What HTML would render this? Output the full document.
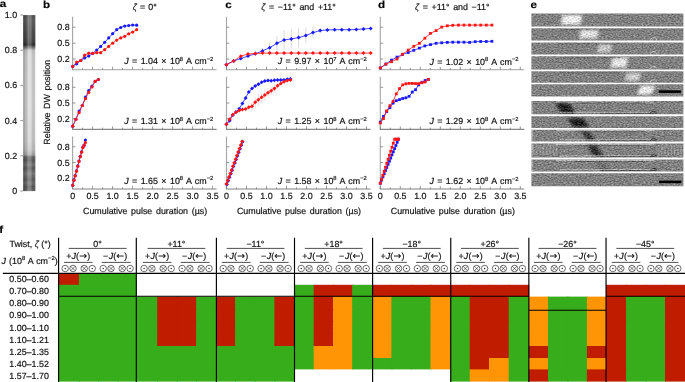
<!DOCTYPE html>
<html><head><meta charset="utf-8"><title>Figure</title>
<style>html,body{margin:0;padding:0;background:#fff}svg{display:block}text{stroke:#111;stroke-width:.18px}text.b{stroke:#000;stroke-width:.15px}</style></head>
<body>
<svg width="685" height="382" viewBox="0 0 685 382" font-family='"Liberation Sans", sans-serif' font-size="8.9" fill="#111" text-rendering="geometricPrecision" word-spacing="1.2">
<defs>
<filter id="noise" x="0" y="0" width="100%" height="100%" color-interpolation-filters="sRGB">
<feTurbulence type="fractalNoise" baseFrequency="0.5 0.85" numOctaves="2" seed="7" result="t"/>
<feColorMatrix in="t" type="matrix" values="1 0 0 0 0  1 0 0 0 0  1 0 0 0 0  0 0 0 0 1" result="n"/>
<feComposite in="SourceGraphic" in2="n" operator="arithmetic" k1="0" k2="1" k3="0.5" k4="-0.25" result="c"/>
<feComposite in="c" in2="SourceGraphic" operator="in"/>
</filter>
<filter id="blur1" x="-30%" y="-30%" width="160%" height="160%"><feGaussianBlur stdDeviation="1.4"/></filter>
<filter id="blur05"><feGaussianBlur stdDeviation="0.6"/></filter>
<linearGradient id="ga" x1="0" y1="0" x2="0" y2="1">
<stop offset="0" stop-color="#555"/>
<stop offset="0.03" stop-color="#626262"/>
<stop offset="0.07" stop-color="#585858"/>
<stop offset="0.1" stop-color="#505050"/>
<stop offset="0.13" stop-color="#4c4c4c"/>
<stop offset="0.155" stop-color="#424242"/>
<stop offset="0.168" stop-color="#2e2e2e"/>
<stop offset="0.185" stop-color="#808080"/>
<stop offset="0.2" stop-color="#cdcdcd"/>
<stop offset="0.23" stop-color="#d6d6d6"/>
<stop offset="0.5" stop-color="#d9d9d9"/>
<stop offset="0.72" stop-color="#d0d0d0"/>
<stop offset="0.77" stop-color="#c2c2c2"/>
<stop offset="0.795" stop-color="#a8a8a8"/>
<stop offset="0.805" stop-color="#6c6c6c"/>
<stop offset="0.825" stop-color="#5c5c5c"/>
<stop offset="0.85" stop-color="#787878"/>
<stop offset="0.87" stop-color="#5e5e5e"/>
<stop offset="0.9" stop-color="#7c7c7c"/>
<stop offset="0.935" stop-color="#606060"/>
<stop offset="0.955" stop-color="#767676"/>
<stop offset="0.975" stop-color="#5c5c5c"/>
<stop offset="1" stop-color="#6a6a6a"/>
</linearGradient>
<linearGradient id="gah" x1="0" y1="0" x2="1" y2="0">
<stop offset="0" stop-color="#000" stop-opacity="0.30"/>
<stop offset="0.2" stop-color="#000" stop-opacity="0.14"/>
<stop offset="0.42" stop-color="#fff" stop-opacity="0.25"/>
<stop offset="0.65" stop-color="#fff" stop-opacity="0.18"/>
<stop offset="0.8" stop-color="#000" stop-opacity="0.10"/>
<stop offset="0.9" stop-color="#000" stop-opacity="0.12"/>
<stop offset="1" stop-color="#fff" stop-opacity="0.10"/>
</linearGradient>
</defs>
<rect width="685" height="382" fill="#fff"/>
<text transform="translate(-0.3 7.4) scale(1.13 1)" class="b" font-weight="bold" font-size="10.3" fill="#000">a</text>
<text transform="translate(42.9 7.6) scale(1.13 1)" class="b" font-weight="bold" font-size="10.3" fill="#000">b</text>
<text transform="translate(225.2 7.6) scale(1.13 1)" class="b" font-weight="bold" font-size="10.3" fill="#000">c</text>
<text transform="translate(377.9 7.6) scale(1.13 1)" class="b" font-weight="bold" font-size="10.3" fill="#000">d</text>
<text transform="translate(530.4 7.6) scale(1.13 1)" class="b" font-weight="bold" font-size="10.3" fill="#000">e</text>
<text transform="translate(-0.8 233.4) scale(1.13 1)" class="b" font-weight="bold" font-size="10.3" fill="#000">f</text>
<text x="132.8" y="9.5" word-spacing="0.6"><tspan font-style="italic">ζ</tspan> = 0°</text>
<text x="261.2" y="9.5"><tspan font-style="italic">ζ</tspan> = −11° and +11°</text>
<text x="414.9" y="9.5"><tspan font-style="italic">ζ</tspan> = +11° and −11°</text>
<g>
<rect x="23.2" y="15.1" width="12.2" height="176" fill="url(#ga)"/>
<rect x="23.2" y="15.1" width="12.2" height="176" fill="url(#gah)"/>
<line x1="20.3" x2="23" y1="191.0" y2="191.0" stroke="#969696" stroke-width="1"/>
<text x="17.2" y="193.9" text-anchor="end">0</text>
<line x1="20.3" x2="23" y1="155.8" y2="155.8" stroke="#969696" stroke-width="1"/>
<text x="17.2" y="158.7" text-anchor="end">0.2</text>
<line x1="20.3" x2="23" y1="120.6" y2="120.6" stroke="#969696" stroke-width="1"/>
<text x="17.2" y="123.5" text-anchor="end">0.4</text>
<line x1="20.3" x2="23" y1="85.4" y2="85.4" stroke="#969696" stroke-width="1"/>
<text x="17.2" y="88.3" text-anchor="end">0.6</text>
<line x1="20.3" x2="23" y1="50.2" y2="50.2" stroke="#969696" stroke-width="1"/>
<text x="17.2" y="53.1" text-anchor="end">0.8</text>
<line x1="20.3" x2="23" y1="15.0" y2="15.0" stroke="#969696" stroke-width="1"/>
<text x="17.2" y="17.9" text-anchor="end">1.0</text>
</g>
<path d="M72.6 16.8V69.7" fill="none" stroke="#a4a4a4" stroke-width="1.1"/>
<path d="M72.1 69.7H216.6" fill="none" stroke="#b4b4b4" stroke-width="1.3"/>
<path d="M72.6 69.7v-2.9M82.6 69.7v-1.7M92.6 69.7v-2.9M102.6 69.7v-1.7M112.6 69.7v-2.9M122.6 69.7v-1.7M132.6 69.7v-2.9M142.6 69.7v-1.7M152.6 69.7v-2.9M162.6 69.7v-1.7M172.6 69.7v-2.9M182.6 69.7v-1.7M192.6 69.7v-2.9M202.6 69.7v-1.7M212.6 69.7v-2.9M72.6 27.2h2.9M72.6 43.2h2.9M72.6 59.0h2.9" fill="none" stroke="#7a7a7a" stroke-width="0.8"/>
<text x="69.7" y="30.2" text-anchor="end">0.8</text>
<text x="69.7" y="46.2" text-anchor="end">0.5</text>
<text x="69.7" y="62.0" text-anchor="end">0.2</text>
<path d="M72.6 76.7V129.3" fill="none" stroke="#a4a4a4" stroke-width="1.1"/>
<path d="M72.1 129.3H216.6" fill="none" stroke="#5a5a5a" stroke-width="0.9"/>
<path d="M72.6 129.3v-2.9M82.6 129.3v-1.7M92.6 129.3v-2.9M102.6 129.3v-1.7M112.6 129.3v-2.9M122.6 129.3v-1.7M132.6 129.3v-2.9M142.6 129.3v-1.7M152.6 129.3v-2.9M162.6 129.3v-1.7M172.6 129.3v-2.9M182.6 129.3v-1.7M192.6 129.3v-2.9M202.6 129.3v-1.7M212.6 129.3v-2.9M72.6 87.3h2.9M72.6 103h2.9M72.6 118.7h2.9" fill="none" stroke="#7a7a7a" stroke-width="0.8"/>
<text x="69.7" y="90.3" text-anchor="end">0.8</text>
<text x="69.7" y="106.0" text-anchor="end">0.5</text>
<text x="69.7" y="121.7" text-anchor="end">0.2</text>
<path d="M72.6 136.6V189.0" fill="none" stroke="#a4a4a4" stroke-width="1.1"/>
<path d="M72.1 189.0H216.6" fill="none" stroke="#808080" stroke-width="1"/>
<path d="M72.6 189.0v-2.9M82.6 189.0v-1.7M92.6 189.0v-2.9M102.6 189.0v-1.7M112.6 189.0v-2.9M122.6 189.0v-1.7M132.6 189.0v-2.9M142.6 189.0v-1.7M152.6 189.0v-2.9M162.6 189.0v-1.7M172.6 189.0v-2.9M182.6 189.0v-1.7M192.6 189.0v-2.9M202.6 189.0v-1.7M212.6 189.0v-2.9M72.6 146.8h2.9M72.6 162.5h2.9M72.6 178.1h2.9" fill="none" stroke="#7a7a7a" stroke-width="0.8"/>
<text x="69.7" y="149.8" text-anchor="end">0.8</text>
<text x="69.7" y="165.5" text-anchor="end">0.5</text>
<text x="69.7" y="181.1" text-anchor="end">0.2</text>
<text x="72.6" y="199.0" text-anchor="middle">0</text>
<text x="92.6" y="199.0" text-anchor="middle">0.5</text>
<text x="112.6" y="199.0" text-anchor="middle">1.0</text>
<text x="132.6" y="199.0" text-anchor="middle">1.5</text>
<text x="152.6" y="199.0" text-anchor="middle">2.0</text>
<text x="172.6" y="199.0" text-anchor="middle">2.5</text>
<text x="192.6" y="199.0" text-anchor="middle">3.0</text>
<text x="212.6" y="199.0" text-anchor="middle">3.5</text>
<text x="145.1" y="214.3" text-anchor="middle">Cumulative pulse duration (µs)</text>
<path d="M226.5 16.8V69.7" fill="none" stroke="#a4a4a4" stroke-width="1.1"/>
<path d="M226.0 69.7H370.5" fill="none" stroke="#b4b4b4" stroke-width="1.3"/>
<path d="M226.5 69.7v-2.9M236.5 69.7v-1.7M246.5 69.7v-2.9M256.5 69.7v-1.7M266.5 69.7v-2.9M276.5 69.7v-1.7M286.5 69.7v-2.9M296.5 69.7v-1.7M306.5 69.7v-2.9M316.5 69.7v-1.7M326.5 69.7v-2.9M336.5 69.7v-1.7M346.5 69.7v-2.9M356.5 69.7v-1.7M366.5 69.7v-2.9M226.5 27.2h2.9M226.5 43.2h2.9M226.5 59.0h2.9" fill="none" stroke="#7a7a7a" stroke-width="0.8"/>
<path d="M226.5 76.7V129.3" fill="none" stroke="#a4a4a4" stroke-width="1.1"/>
<path d="M226.0 129.3H370.5" fill="none" stroke="#5a5a5a" stroke-width="0.9"/>
<path d="M226.5 129.3v-2.9M236.5 129.3v-1.7M246.5 129.3v-2.9M256.5 129.3v-1.7M266.5 129.3v-2.9M276.5 129.3v-1.7M286.5 129.3v-2.9M296.5 129.3v-1.7M306.5 129.3v-2.9M316.5 129.3v-1.7M326.5 129.3v-2.9M336.5 129.3v-1.7M346.5 129.3v-2.9M356.5 129.3v-1.7M366.5 129.3v-2.9M226.5 87.3h2.9M226.5 103h2.9M226.5 118.7h2.9" fill="none" stroke="#7a7a7a" stroke-width="0.8"/>
<path d="M226.5 136.6V189.0" fill="none" stroke="#a4a4a4" stroke-width="1.1"/>
<path d="M226.0 189.0H370.5" fill="none" stroke="#808080" stroke-width="1"/>
<path d="M226.5 189.0v-2.9M236.5 189.0v-1.7M246.5 189.0v-2.9M256.5 189.0v-1.7M266.5 189.0v-2.9M276.5 189.0v-1.7M286.5 189.0v-2.9M296.5 189.0v-1.7M306.5 189.0v-2.9M316.5 189.0v-1.7M326.5 189.0v-2.9M336.5 189.0v-1.7M346.5 189.0v-2.9M356.5 189.0v-1.7M366.5 189.0v-2.9M226.5 146.8h2.9M226.5 162.5h2.9M226.5 178.1h2.9" fill="none" stroke="#7a7a7a" stroke-width="0.8"/>
<text x="226.5" y="199.0" text-anchor="middle">0</text>
<text x="246.5" y="199.0" text-anchor="middle">0.5</text>
<text x="266.5" y="199.0" text-anchor="middle">1.0</text>
<text x="286.5" y="199.0" text-anchor="middle">1.5</text>
<text x="306.5" y="199.0" text-anchor="middle">2.0</text>
<text x="326.5" y="199.0" text-anchor="middle">2.5</text>
<text x="346.5" y="199.0" text-anchor="middle">3.0</text>
<text x="366.5" y="199.0" text-anchor="middle">3.5</text>
<text x="299.0" y="214.3" text-anchor="middle">Cumulative pulse duration (µs)</text>
<path d="M380.3 16.8V69.7" fill="none" stroke="#a4a4a4" stroke-width="1.1"/>
<path d="M379.8 69.7H524.3" fill="none" stroke="#b4b4b4" stroke-width="1.3"/>
<path d="M380.3 69.7v-2.9M390.3 69.7v-1.7M400.3 69.7v-2.9M410.3 69.7v-1.7M420.3 69.7v-2.9M430.3 69.7v-1.7M440.3 69.7v-2.9M450.3 69.7v-1.7M460.3 69.7v-2.9M470.3 69.7v-1.7M480.3 69.7v-2.9M490.3 69.7v-1.7M500.3 69.7v-2.9M510.3 69.7v-1.7M520.3 69.7v-2.9M380.3 27.2h2.9M380.3 43.2h2.9M380.3 59.0h2.9" fill="none" stroke="#7a7a7a" stroke-width="0.8"/>
<path d="M380.3 76.7V129.3" fill="none" stroke="#a4a4a4" stroke-width="1.1"/>
<path d="M379.8 129.3H524.3" fill="none" stroke="#5a5a5a" stroke-width="0.9"/>
<path d="M380.3 129.3v-2.9M390.3 129.3v-1.7M400.3 129.3v-2.9M410.3 129.3v-1.7M420.3 129.3v-2.9M430.3 129.3v-1.7M440.3 129.3v-2.9M450.3 129.3v-1.7M460.3 129.3v-2.9M470.3 129.3v-1.7M480.3 129.3v-2.9M490.3 129.3v-1.7M500.3 129.3v-2.9M510.3 129.3v-1.7M520.3 129.3v-2.9M380.3 87.3h2.9M380.3 103h2.9M380.3 118.7h2.9" fill="none" stroke="#7a7a7a" stroke-width="0.8"/>
<path d="M380.3 136.6V189.0" fill="none" stroke="#a4a4a4" stroke-width="1.1"/>
<path d="M379.8 189.0H524.3" fill="none" stroke="#808080" stroke-width="1"/>
<path d="M380.3 189.0v-2.9M390.3 189.0v-1.7M400.3 189.0v-2.9M410.3 189.0v-1.7M420.3 189.0v-2.9M430.3 189.0v-1.7M440.3 189.0v-2.9M450.3 189.0v-1.7M460.3 189.0v-2.9M470.3 189.0v-1.7M480.3 189.0v-2.9M490.3 189.0v-1.7M500.3 189.0v-2.9M510.3 189.0v-1.7M520.3 189.0v-2.9M380.3 146.8h2.9M380.3 162.5h2.9M380.3 178.1h2.9" fill="none" stroke="#7a7a7a" stroke-width="0.8"/>
<text x="380.3" y="199.0" text-anchor="middle">0</text>
<text x="400.3" y="199.0" text-anchor="middle">0.5</text>
<text x="420.3" y="199.0" text-anchor="middle">1.0</text>
<text x="440.3" y="199.0" text-anchor="middle">1.5</text>
<text x="460.3" y="199.0" text-anchor="middle">2.0</text>
<text x="480.3" y="199.0" text-anchor="middle">2.5</text>
<text x="500.3" y="199.0" text-anchor="middle">3.0</text>
<text x="520.3" y="199.0" text-anchor="middle">3.5</text>
<text x="452.8" y="214.3" text-anchor="middle">Cumulative pulse duration (µs)</text>
<text transform="translate(49.6 102.3) rotate(-90)" text-anchor="middle">Relative DW position</text>
<text x="213.3" y="64.2" text-anchor="end" word-spacing="0.95"><tspan font-style="italic">J</tspan> = 1.04 × 10<tspan font-size="5.8" dy="-3.3">8</tspan><tspan dy="3.3"> A cm</tspan><tspan font-size="5.8" dy="-3.3">−2</tspan></text>
<text x="213.3" y="123.9" text-anchor="end" word-spacing="0.95"><tspan font-style="italic">J</tspan> = 1.31 × 10<tspan font-size="5.8" dy="-3.3">8</tspan><tspan dy="3.3"> A cm</tspan><tspan font-size="5.8" dy="-3.3">−2</tspan></text>
<text x="213.3" y="183.6" text-anchor="end" word-spacing="0.95"><tspan font-style="italic">J</tspan> = 1.65 × 10<tspan font-size="5.8" dy="-3.3">8</tspan><tspan dy="3.3"> A cm</tspan><tspan font-size="5.8" dy="-3.3">−2</tspan></text>
<text x="366.8" y="64.2" text-anchor="end" word-spacing="0.95"><tspan font-style="italic">J</tspan> = 9.97 × 10<tspan font-size="5.8" dy="-3.3">7</tspan><tspan dy="3.3"> A cm</tspan><tspan font-size="5.8" dy="-3.3">−2</tspan></text>
<text x="366.8" y="123.9" text-anchor="end" word-spacing="0.95"><tspan font-style="italic">J</tspan> = 1.25 × 10<tspan font-size="5.8" dy="-3.3">8</tspan><tspan dy="3.3"> A cm</tspan><tspan font-size="5.8" dy="-3.3">−2</tspan></text>
<text x="366.8" y="183.6" text-anchor="end" word-spacing="0.95"><tspan font-style="italic">J</tspan> = 1.58 × 10<tspan font-size="5.8" dy="-3.3">8</tspan><tspan dy="3.3"> A cm</tspan><tspan font-size="5.8" dy="-3.3">−2</tspan></text>
<text x="518.5" y="64.6" text-anchor="end" word-spacing="0.95"><tspan font-style="italic">J</tspan> = 1.02 × 10<tspan font-size="5.8" dy="-3.3">8</tspan><tspan dy="3.3"> A cm</tspan><tspan font-size="5.8" dy="-3.3">−2</tspan></text>
<text x="518.5" y="124.2" text-anchor="end" word-spacing="0.95"><tspan font-style="italic">J</tspan> = 1.29 × 10<tspan font-size="5.8" dy="-3.3">8</tspan><tspan dy="3.3"> A cm</tspan><tspan font-size="5.8" dy="-3.3">−2</tspan></text>
<text x="518.5" y="183.8" text-anchor="end" word-spacing="0.95"><tspan font-style="italic">J</tspan> = 1.62 × 10<tspan font-size="5.8" dy="-3.3">8</tspan><tspan dy="3.3"> A cm</tspan><tspan font-size="5.8" dy="-3.3">−2</tspan></text>
<path d="M72.7 66.4L76.7 63.8L80.7 60.5L84.7 57.9L88.7 56.1L92.7 53.3L96.7 50.0L100.7 46.4L104.7 42.3L108.7 37.9L112.7 33.7L116.7 29.7L120.7 27.5L124.7 26.1L128.7 25.5L132.7 25.0L136.7 25.2" fill="none" stroke="#1a1aff" stroke-width="0.8"/>
<circle cx="72.7" cy="66.4" r="1.6" fill="#1a1aff"/><circle cx="76.7" cy="63.8" r="1.6" fill="#1a1aff"/><circle cx="80.7" cy="60.5" r="1.6" fill="#1a1aff"/><circle cx="84.7" cy="57.9" r="1.6" fill="#1a1aff"/><circle cx="88.7" cy="56.1" r="1.6" fill="#1a1aff"/><circle cx="92.7" cy="53.3" r="1.6" fill="#1a1aff"/><circle cx="96.7" cy="50.0" r="1.6" fill="#1a1aff"/><circle cx="100.7" cy="46.4" r="1.6" fill="#1a1aff"/><circle cx="104.7" cy="42.3" r="1.6" fill="#1a1aff"/><circle cx="108.7" cy="37.9" r="1.6" fill="#1a1aff"/><circle cx="112.7" cy="33.7" r="1.6" fill="#1a1aff"/><circle cx="116.7" cy="29.7" r="1.6" fill="#1a1aff"/><circle cx="120.7" cy="27.5" r="1.6" fill="#1a1aff"/><circle cx="124.7" cy="26.1" r="1.6" fill="#1a1aff"/><circle cx="128.7" cy="25.5" r="1.6" fill="#1a1aff"/><circle cx="132.7" cy="25.0" r="1.6" fill="#1a1aff"/><circle cx="136.7" cy="25.2" r="1.6" fill="#1a1aff"/>
<path d="M72.7 66.4L76.7 62.1L80.7 60.5L84.7 55.2L88.7 53.2L92.7 53.3L96.7 52.7L100.7 52.7L104.7 49.7L108.7 46.4L112.7 43.2L116.7 40.1L120.7 37.9L124.7 36.3L128.7 33.8L132.7 32.1L136.7 29.7" fill="none" stroke="#ff1414" stroke-width="0.8"/>
<circle cx="72.7" cy="66.4" r="1.6" fill="#ff1414"/><circle cx="76.7" cy="62.1" r="1.6" fill="#ff1414"/><circle cx="80.7" cy="60.5" r="1.6" fill="#ff1414"/><circle cx="84.7" cy="55.2" r="1.6" fill="#ff1414"/><circle cx="88.7" cy="53.2" r="1.6" fill="#ff1414"/><circle cx="92.7" cy="53.3" r="1.6" fill="#ff1414"/><circle cx="96.7" cy="52.7" r="1.6" fill="#ff1414"/><circle cx="100.7" cy="52.7" r="1.6" fill="#ff1414"/><circle cx="104.7" cy="49.7" r="1.6" fill="#ff1414"/><circle cx="108.7" cy="46.4" r="1.6" fill="#ff1414"/><circle cx="112.7" cy="43.2" r="1.6" fill="#ff1414"/><circle cx="116.7" cy="40.1" r="1.6" fill="#ff1414"/><circle cx="120.7" cy="37.9" r="1.6" fill="#ff1414"/><circle cx="124.7" cy="36.3" r="1.6" fill="#ff1414"/><circle cx="128.7" cy="33.8" r="1.6" fill="#ff1414"/><circle cx="132.7" cy="32.1" r="1.6" fill="#ff1414"/><circle cx="136.7" cy="29.7" r="1.6" fill="#ff1414"/>
<path d="M72.7 126.2L75.9 119.3L79.1 111.0L82.3 105.5L85.5 97.2L88.7 90.6L91.9 86.2L95.1 81.4L98.3 79.5" fill="none" stroke="#1a1aff" stroke-width="0.8"/>
<circle cx="72.7" cy="126.2" r="1.6" fill="#1a1aff"/><circle cx="75.9" cy="119.3" r="1.6" fill="#1a1aff"/><circle cx="79.1" cy="111.0" r="1.6" fill="#1a1aff"/><circle cx="82.3" cy="105.5" r="1.6" fill="#1a1aff"/><circle cx="85.5" cy="97.2" r="1.6" fill="#1a1aff"/><circle cx="88.7" cy="90.6" r="1.6" fill="#1a1aff"/><circle cx="91.9" cy="86.2" r="1.6" fill="#1a1aff"/><circle cx="95.1" cy="81.4" r="1.6" fill="#1a1aff"/><circle cx="98.3" cy="79.5" r="1.6" fill="#1a1aff"/>
<path d="M72.7 126.2L75.9 119.3L79.1 112.6L82.3 105.5L85.5 98.7L88.7 92.4L91.9 86.9L95.1 81.4L98.3 79.5" fill="none" stroke="#ff1414" stroke-width="0.8"/>
<circle cx="72.7" cy="126.2" r="1.6" fill="#ff1414"/><circle cx="75.9" cy="119.3" r="1.6" fill="#ff1414"/><circle cx="79.1" cy="112.6" r="1.6" fill="#ff1414"/><circle cx="82.3" cy="105.5" r="1.6" fill="#ff1414"/><circle cx="85.5" cy="98.7" r="1.6" fill="#ff1414"/><circle cx="88.7" cy="92.4" r="1.6" fill="#ff1414"/><circle cx="91.9" cy="86.9" r="1.6" fill="#ff1414"/><circle cx="95.1" cy="81.4" r="1.6" fill="#ff1414"/><circle cx="98.3" cy="79.5" r="1.6" fill="#ff1414"/>
<path d="M72.7 185.3L74.0 179.9L75.2 175.5L76.5 170.8L77.8 165.9L79.0 161.0L80.3 156.3L81.6 151.8L82.9 147.2L84.1 145.0L85.4 140.0" fill="none" stroke="#1a1aff" stroke-width="0.8"/>
<circle cx="72.7" cy="185.3" r="1.6" fill="#1a1aff"/><circle cx="74.0" cy="179.9" r="1.6" fill="#1a1aff"/><circle cx="75.2" cy="175.5" r="1.6" fill="#1a1aff"/><circle cx="76.5" cy="170.8" r="1.6" fill="#1a1aff"/><circle cx="77.8" cy="165.9" r="1.6" fill="#1a1aff"/><circle cx="79.0" cy="161.0" r="1.6" fill="#1a1aff"/><circle cx="80.3" cy="156.3" r="1.6" fill="#1a1aff"/><circle cx="81.6" cy="151.8" r="1.6" fill="#1a1aff"/><circle cx="82.9" cy="147.2" r="1.6" fill="#1a1aff"/><circle cx="84.1" cy="145.0" r="1.6" fill="#1a1aff"/><circle cx="85.4" cy="140.0" r="1.6" fill="#1a1aff"/>
<path d="M72.7 185.3L74.0 180.3L75.2 175.9L76.5 171.2L77.8 166.3L79.0 161.4L80.3 156.7L81.6 152.2L82.9 147.6L84.1 145.4L85.4 142.6" fill="none" stroke="#ff1414" stroke-width="0.8"/>
<circle cx="72.7" cy="185.3" r="1.6" fill="#ff1414"/><circle cx="74.0" cy="180.3" r="1.6" fill="#ff1414"/><circle cx="75.2" cy="175.9" r="1.6" fill="#ff1414"/><circle cx="76.5" cy="171.2" r="1.6" fill="#ff1414"/><circle cx="77.8" cy="166.3" r="1.6" fill="#ff1414"/><circle cx="79.0" cy="161.4" r="1.6" fill="#ff1414"/><circle cx="80.3" cy="156.7" r="1.6" fill="#ff1414"/><circle cx="81.6" cy="152.2" r="1.6" fill="#ff1414"/><circle cx="82.9" cy="147.6" r="1.6" fill="#ff1414"/><circle cx="84.1" cy="145.4" r="1.6" fill="#ff1414"/><circle cx="85.4" cy="142.6" r="1.6" fill="#ff1414"/>
<path d="M262.5 47.9v6M269.7 42.7v10M276.9 36.3v14M284.1 30.0v20M291.3 28.9v20M298.6 27.6v20M305.8 27.6v16M313.0 26.6v12M320.2 28.6v4" stroke="#c9c9d6" stroke-width="0.7" fill="none"/>
<path d="M226.4 64.7L233.6 61.0L240.8 58.6L248.0 56.0L255.3 53.8L262.5 50.9L269.7 47.7L276.9 43.3L284.1 40.0L291.3 38.9L298.6 37.6L305.8 35.6L313.0 32.6L320.2 30.6L327.4 29.9L334.6 29.7L341.8 29.7L349.1 29.7L356.3 29.5L363.5 29.0L370.7 28.4" fill="none" stroke="#1a1aff" stroke-width="0.8"/>
<path d="M224.4 64.7L226.4 62.7L228.4 64.7L226.4 66.7Z" fill="#1a1aff"/><path d="M231.6 61.0L233.6 59.0L235.6 61.0L233.6 63.0Z" fill="#1a1aff"/><path d="M238.8 58.6L240.8 56.6L242.8 58.6L240.8 60.6Z" fill="#1a1aff"/><path d="M246.0 56.0L248.0 54.0L250.0 56.0L248.0 58.0Z" fill="#1a1aff"/><path d="M253.3 53.8L255.3 51.8L257.3 53.8L255.3 55.8Z" fill="#1a1aff"/><path d="M260.5 50.9L262.5 48.9L264.5 50.9L262.5 52.9Z" fill="#1a1aff"/><path d="M267.7 47.7L269.7 45.7L271.7 47.7L269.7 49.7Z" fill="#1a1aff"/><path d="M274.9 43.3L276.9 41.3L278.9 43.3L276.9 45.3Z" fill="#1a1aff"/><path d="M282.1 40.0L284.1 38.0L286.1 40.0L284.1 42.0Z" fill="#1a1aff"/><path d="M289.3 38.9L291.3 36.9L293.3 38.9L291.3 40.9Z" fill="#1a1aff"/><path d="M296.6 37.6L298.6 35.6L300.6 37.6L298.6 39.6Z" fill="#1a1aff"/><path d="M303.8 35.6L305.8 33.6L307.8 35.6L305.8 37.6Z" fill="#1a1aff"/><path d="M311.0 32.6L313.0 30.6L315.0 32.6L313.0 34.6Z" fill="#1a1aff"/><path d="M318.2 30.6L320.2 28.6L322.2 30.6L320.2 32.6Z" fill="#1a1aff"/><path d="M325.4 29.9L327.4 27.9L329.4 29.9L327.4 31.9Z" fill="#1a1aff"/><path d="M332.6 29.7L334.6 27.7L336.6 29.7L334.6 31.7Z" fill="#1a1aff"/><path d="M339.8 29.7L341.8 27.7L343.8 29.7L341.8 31.7Z" fill="#1a1aff"/><path d="M347.1 29.7L349.1 27.7L351.1 29.7L349.1 31.7Z" fill="#1a1aff"/><path d="M354.3 29.5L356.3 27.5L358.3 29.5L356.3 31.5Z" fill="#1a1aff"/><path d="M361.5 29.0L363.5 27.0L365.5 29.0L363.5 31.0Z" fill="#1a1aff"/><path d="M368.7 28.4L370.7 26.4L372.7 28.4L370.7 30.4Z" fill="#1a1aff"/>
<path d="M226.4 64.7L233.6 61.0L240.8 56.2L248.0 54.0L255.3 53.6L262.5 53.1L269.7 53.1L276.9 53.1L284.1 53.1L291.3 53.1L298.6 53.1L305.8 53.1L313.0 53.1L320.2 53.1L327.4 53.1L334.6 53.1L341.8 53.1L349.1 53.1L356.3 53.1L363.5 53.1L370.7 53.1" fill="none" stroke="#ff1414" stroke-width="0.8"/>
<path d="M224.4 64.7L226.4 62.7L228.4 64.7L226.4 66.7Z" fill="#ff1414"/><path d="M231.6 61.0L233.6 59.0L235.6 61.0L233.6 63.0Z" fill="#ff1414"/><path d="M238.8 56.2L240.8 54.2L242.8 56.2L240.8 58.2Z" fill="#ff1414"/><path d="M246.0 54.0L248.0 52.0L250.0 54.0L248.0 56.0Z" fill="#ff1414"/><path d="M253.3 53.6L255.3 51.6L257.3 53.6L255.3 55.6Z" fill="#ff1414"/><path d="M260.5 53.1L262.5 51.1L264.5 53.1L262.5 55.1Z" fill="#ff1414"/><path d="M267.7 53.1L269.7 51.1L271.7 53.1L269.7 55.1Z" fill="#ff1414"/><path d="M274.9 53.1L276.9 51.1L278.9 53.1L276.9 55.1Z" fill="#ff1414"/><path d="M282.1 53.1L284.1 51.1L286.1 53.1L284.1 55.1Z" fill="#ff1414"/><path d="M289.3 53.1L291.3 51.1L293.3 53.1L291.3 55.1Z" fill="#ff1414"/><path d="M296.6 53.1L298.6 51.1L300.6 53.1L298.6 55.1Z" fill="#ff1414"/><path d="M303.8 53.1L305.8 51.1L307.8 53.1L305.8 55.1Z" fill="#ff1414"/><path d="M311.0 53.1L313.0 51.1L315.0 53.1L313.0 55.1Z" fill="#ff1414"/><path d="M318.2 53.1L320.2 51.1L322.2 53.1L320.2 55.1Z" fill="#ff1414"/><path d="M325.4 53.1L327.4 51.1L329.4 53.1L327.4 55.1Z" fill="#ff1414"/><path d="M332.6 53.1L334.6 51.1L336.6 53.1L334.6 55.1Z" fill="#ff1414"/><path d="M339.8 53.1L341.8 51.1L343.8 53.1L341.8 55.1Z" fill="#ff1414"/><path d="M347.1 53.1L349.1 51.1L351.1 53.1L349.1 55.1Z" fill="#ff1414"/><path d="M354.3 53.1L356.3 51.1L358.3 53.1L356.3 55.1Z" fill="#ff1414"/><path d="M361.5 53.1L363.5 51.1L365.5 53.1L363.5 55.1Z" fill="#ff1414"/><path d="M368.7 53.1L370.7 51.1L372.7 53.1L370.7 55.1Z" fill="#ff1414"/>
<path d="M248.8 104.2v6M252.0 102.3v8M255.2 97.2v10M258.4 93.8v12M261.6 91.2v12M264.8 89.0v12M268.0 87.8v10M271.2 85.8v10M274.4 84.6v8M277.6 82.8v6" stroke="#f0cfcf" stroke-width="0.7" fill="none"/>
<path d="M226.4 124.3L229.6 120.8L232.8 114.9L236.0 112.0L239.2 108.8L242.4 103.5L245.6 98.0L248.8 91.9L252.0 88.6L255.2 86.0L258.4 84.2L261.6 82.3L264.8 80.9L268.0 80.5L271.2 80.7L274.4 80.3L277.6 80.1L280.8 79.9L284.0 79.9L287.2 79.2L290.4 79.0" fill="none" stroke="#1a1aff" stroke-width="0.8"/>
<path d="M224.4 124.3L226.4 122.3L228.4 124.3L226.4 126.3Z" fill="#1a1aff"/><path d="M227.6 120.8L229.6 118.8L231.6 120.8L229.6 122.8Z" fill="#1a1aff"/><path d="M230.8 114.9L232.8 112.9L234.8 114.9L232.8 116.9Z" fill="#1a1aff"/><path d="M234.0 112.0L236.0 110.0L238.0 112.0L236.0 114.0Z" fill="#1a1aff"/><path d="M237.2 108.8L239.2 106.8L241.2 108.8L239.2 110.8Z" fill="#1a1aff"/><path d="M240.4 103.5L242.4 101.5L244.4 103.5L242.4 105.5Z" fill="#1a1aff"/><path d="M243.6 98.0L245.6 96.0L247.6 98.0L245.6 100.0Z" fill="#1a1aff"/><path d="M246.8 91.9L248.8 89.9L250.8 91.9L248.8 93.9Z" fill="#1a1aff"/><path d="M250.0 88.6L252.0 86.6L254.0 88.6L252.0 90.6Z" fill="#1a1aff"/><path d="M253.2 86.0L255.2 84.0L257.2 86.0L255.2 88.0Z" fill="#1a1aff"/><path d="M256.4 84.2L258.4 82.2L260.4 84.2L258.4 86.2Z" fill="#1a1aff"/><path d="M259.6 82.3L261.6 80.3L263.6 82.3L261.6 84.3Z" fill="#1a1aff"/><path d="M262.8 80.9L264.8 78.9L266.8 80.9L264.8 82.9Z" fill="#1a1aff"/><path d="M266.0 80.5L268.0 78.5L270.0 80.5L268.0 82.5Z" fill="#1a1aff"/><path d="M269.2 80.7L271.2 78.7L273.2 80.7L271.2 82.7Z" fill="#1a1aff"/><path d="M272.4 80.3L274.4 78.3L276.4 80.3L274.4 82.3Z" fill="#1a1aff"/><path d="M275.6 80.1L277.6 78.1L279.6 80.1L277.6 82.1Z" fill="#1a1aff"/><path d="M278.8 79.9L280.8 77.9L282.8 79.9L280.8 81.9Z" fill="#1a1aff"/><path d="M282.0 79.9L284.0 77.9L286.0 79.9L284.0 81.9Z" fill="#1a1aff"/><path d="M285.2 79.2L287.2 77.2L289.2 79.2L287.2 81.2Z" fill="#1a1aff"/><path d="M288.4 79.0L290.4 77.0L292.4 79.0L290.4 81.0Z" fill="#1a1aff"/>
<path d="M226.4 124.3L229.6 119.3L232.8 114.7L236.0 112.3L239.2 110.5L242.4 109.6L245.6 109.0L248.8 107.2L252.0 106.3L255.2 102.2L258.4 99.8L261.6 97.2L264.8 95.0L268.0 92.8L271.2 90.8L274.4 88.6L277.6 85.8L280.8 83.6L284.0 81.8L287.2 80.5L290.4 79.9" fill="none" stroke="#ff1414" stroke-width="0.8"/>
<path d="M224.4 124.3L226.4 122.3L228.4 124.3L226.4 126.3Z" fill="#ff1414"/><path d="M227.6 119.3L229.6 117.3L231.6 119.3L229.6 121.3Z" fill="#ff1414"/><path d="M230.8 114.7L232.8 112.7L234.8 114.7L232.8 116.7Z" fill="#ff1414"/><path d="M234.0 112.3L236.0 110.3L238.0 112.3L236.0 114.3Z" fill="#ff1414"/><path d="M237.2 110.5L239.2 108.5L241.2 110.5L239.2 112.5Z" fill="#ff1414"/><path d="M240.4 109.6L242.4 107.6L244.4 109.6L242.4 111.6Z" fill="#ff1414"/><path d="M243.6 109.0L245.6 107.0L247.6 109.0L245.6 111.0Z" fill="#ff1414"/><path d="M246.8 107.2L248.8 105.2L250.8 107.2L248.8 109.2Z" fill="#ff1414"/><path d="M250.0 106.3L252.0 104.3L254.0 106.3L252.0 108.3Z" fill="#ff1414"/><path d="M253.2 102.2L255.2 100.2L257.2 102.2L255.2 104.2Z" fill="#ff1414"/><path d="M256.4 99.8L258.4 97.8L260.4 99.8L258.4 101.8Z" fill="#ff1414"/><path d="M259.6 97.2L261.6 95.2L263.6 97.2L261.6 99.2Z" fill="#ff1414"/><path d="M262.8 95.0L264.8 93.0L266.8 95.0L264.8 97.0Z" fill="#ff1414"/><path d="M266.0 92.8L268.0 90.8L270.0 92.8L268.0 94.8Z" fill="#ff1414"/><path d="M269.2 90.8L271.2 88.8L273.2 90.8L271.2 92.8Z" fill="#ff1414"/><path d="M272.4 88.6L274.4 86.6L276.4 88.6L274.4 90.6Z" fill="#ff1414"/><path d="M275.6 85.8L277.6 83.8L279.6 85.8L277.6 87.8Z" fill="#ff1414"/><path d="M278.8 83.6L280.8 81.6L282.8 83.6L280.8 85.6Z" fill="#ff1414"/><path d="M282.0 81.8L284.0 79.8L286.0 81.8L284.0 83.8Z" fill="#ff1414"/><path d="M285.2 80.5L287.2 78.5L289.2 80.5L287.2 82.5Z" fill="#ff1414"/><path d="M288.4 79.9L290.4 77.9L292.4 79.9L290.4 81.9Z" fill="#ff1414"/>
<path d="M226.9 184.4L228.2 180.8L229.5 177.3L230.8 173.7L232.1 170.2L233.4 166.6L234.8 163.1L236.1 159.5L237.4 155.9L238.7 152.4L240.0 148.8L241.3 145.3L242.6 141.7" fill="none" stroke="#1a1aff" stroke-width="0.8"/>
<path d="M224.9 184.4L226.9 182.4L228.9 184.4L226.9 186.4Z" fill="#1a1aff"/><path d="M226.2 180.8L228.2 178.8L230.2 180.8L228.2 182.8Z" fill="#1a1aff"/><path d="M227.5 177.3L229.5 175.3L231.5 177.3L229.5 179.3Z" fill="#1a1aff"/><path d="M228.8 173.7L230.8 171.7L232.8 173.7L230.8 175.7Z" fill="#1a1aff"/><path d="M230.1 170.2L232.1 168.2L234.1 170.2L232.1 172.2Z" fill="#1a1aff"/><path d="M231.4 166.6L233.4 164.6L235.4 166.6L233.4 168.6Z" fill="#1a1aff"/><path d="M232.8 163.1L234.8 161.1L236.8 163.1L234.8 165.1Z" fill="#1a1aff"/><path d="M234.1 159.5L236.1 157.5L238.1 159.5L236.1 161.5Z" fill="#1a1aff"/><path d="M235.4 155.9L237.4 153.9L239.4 155.9L237.4 157.9Z" fill="#1a1aff"/><path d="M236.7 152.4L238.7 150.4L240.7 152.4L238.7 154.4Z" fill="#1a1aff"/><path d="M238.0 148.8L240.0 146.8L242.0 148.8L240.0 150.8Z" fill="#1a1aff"/><path d="M239.3 145.3L241.3 143.3L243.3 145.3L241.3 147.3Z" fill="#1a1aff"/><path d="M240.6 141.7L242.6 139.7L244.6 141.7L242.6 143.7Z" fill="#1a1aff"/>
<path d="M226.4 184.1L227.7 180.5L229.0 177.0L230.3 173.4L231.6 169.9L232.9 166.3L234.2 162.8L235.6 159.2L236.9 155.6L238.2 152.1L239.5 148.5L240.8 145.0L242.1 141.4" fill="none" stroke="#ff1414" stroke-width="0.8"/>
<path d="M224.4 184.1L226.4 182.1L228.4 184.1L226.4 186.1Z" fill="#ff1414"/><path d="M225.7 180.5L227.7 178.5L229.7 180.5L227.7 182.5Z" fill="#ff1414"/><path d="M227.0 177.0L229.0 175.0L231.0 177.0L229.0 179.0Z" fill="#ff1414"/><path d="M228.3 173.4L230.3 171.4L232.3 173.4L230.3 175.4Z" fill="#ff1414"/><path d="M229.6 169.9L231.6 167.9L233.6 169.9L231.6 171.9Z" fill="#ff1414"/><path d="M230.9 166.3L232.9 164.3L234.9 166.3L232.9 168.3Z" fill="#ff1414"/><path d="M232.2 162.8L234.2 160.8L236.2 162.8L234.2 164.8Z" fill="#ff1414"/><path d="M233.6 159.2L235.6 157.2L237.6 159.2L235.6 161.2Z" fill="#ff1414"/><path d="M234.9 155.6L236.9 153.6L238.9 155.6L236.9 157.6Z" fill="#ff1414"/><path d="M236.2 152.1L238.2 150.1L240.2 152.1L238.2 154.1Z" fill="#ff1414"/><path d="M237.5 148.5L239.5 146.5L241.5 148.5L239.5 150.5Z" fill="#ff1414"/><path d="M238.8 145.0L240.8 143.0L242.8 145.0L240.8 147.0Z" fill="#ff1414"/><path d="M240.1 141.4L242.1 139.4L244.1 141.4L242.1 143.4Z" fill="#ff1414"/>
<path d="M380.3 68.0L385.9 64.1L391.5 60.1L397.0 57.1L402.6 54.4L408.2 52.5L413.8 50.3L419.4 48.1L424.9 45.9L430.5 44.6L436.1 43.3L441.7 42.8L447.3 42.4L452.8 42.2L458.4 42.2L464.0 42.2L469.6 42.4L475.2 41.7L480.7 41.5L486.3 41.5L491.9 41.3" fill="none" stroke="#1a1aff" stroke-width="0.8"/>
<rect x="378.9" y="66.6" width="2.8" height="2.8" fill="#1a1aff"/><rect x="384.5" y="62.7" width="2.8" height="2.8" fill="#1a1aff"/><rect x="390.1" y="58.7" width="2.8" height="2.8" fill="#1a1aff"/><rect x="395.6" y="55.7" width="2.8" height="2.8" fill="#1a1aff"/><rect x="401.2" y="53.0" width="2.8" height="2.8" fill="#1a1aff"/><rect x="406.8" y="51.1" width="2.8" height="2.8" fill="#1a1aff"/><rect x="412.4" y="48.9" width="2.8" height="2.8" fill="#1a1aff"/><rect x="418.0" y="46.7" width="2.8" height="2.8" fill="#1a1aff"/><rect x="423.5" y="44.5" width="2.8" height="2.8" fill="#1a1aff"/><rect x="429.1" y="43.2" width="2.8" height="2.8" fill="#1a1aff"/><rect x="434.7" y="41.9" width="2.8" height="2.8" fill="#1a1aff"/><rect x="440.3" y="41.4" width="2.8" height="2.8" fill="#1a1aff"/><rect x="445.9" y="41.0" width="2.8" height="2.8" fill="#1a1aff"/><rect x="451.4" y="40.8" width="2.8" height="2.8" fill="#1a1aff"/><rect x="457.0" y="40.8" width="2.8" height="2.8" fill="#1a1aff"/><rect x="462.6" y="40.8" width="2.8" height="2.8" fill="#1a1aff"/><rect x="468.2" y="41.0" width="2.8" height="2.8" fill="#1a1aff"/><rect x="473.8" y="40.3" width="2.8" height="2.8" fill="#1a1aff"/><rect x="479.3" y="40.1" width="2.8" height="2.8" fill="#1a1aff"/><rect x="484.9" y="40.1" width="2.8" height="2.8" fill="#1a1aff"/><rect x="490.5" y="39.9" width="2.8" height="2.8" fill="#1a1aff"/>
<path d="M380.3 68.0L385.9 64.1L391.5 61.7L397.0 59.0L402.6 54.2L408.2 50.1L413.8 46.3L419.4 43.3L424.9 38.2L430.5 33.4L436.1 30.6L441.7 27.1L447.3 25.8L452.8 25.3L458.4 25.1L464.0 25.1L469.6 25.1L475.2 25.1L480.7 25.1L486.3 25.1L491.9 25.1" fill="none" stroke="#ff1414" stroke-width="0.8"/>
<rect x="378.9" y="66.6" width="2.8" height="2.8" fill="#ff1414"/><rect x="384.5" y="62.7" width="2.8" height="2.8" fill="#ff1414"/><rect x="390.1" y="60.3" width="2.8" height="2.8" fill="#ff1414"/><rect x="395.6" y="57.6" width="2.8" height="2.8" fill="#ff1414"/><rect x="401.2" y="52.8" width="2.8" height="2.8" fill="#ff1414"/><rect x="406.8" y="48.7" width="2.8" height="2.8" fill="#ff1414"/><rect x="412.4" y="44.9" width="2.8" height="2.8" fill="#ff1414"/><rect x="418.0" y="41.9" width="2.8" height="2.8" fill="#ff1414"/><rect x="423.5" y="36.8" width="2.8" height="2.8" fill="#ff1414"/><rect x="429.1" y="32.0" width="2.8" height="2.8" fill="#ff1414"/><rect x="434.7" y="29.2" width="2.8" height="2.8" fill="#ff1414"/><rect x="440.3" y="25.7" width="2.8" height="2.8" fill="#ff1414"/><rect x="445.9" y="24.4" width="2.8" height="2.8" fill="#ff1414"/><rect x="451.4" y="23.9" width="2.8" height="2.8" fill="#ff1414"/><rect x="457.0" y="23.7" width="2.8" height="2.8" fill="#ff1414"/><rect x="462.6" y="23.7" width="2.8" height="2.8" fill="#ff1414"/><rect x="468.2" y="23.7" width="2.8" height="2.8" fill="#ff1414"/><rect x="473.8" y="23.7" width="2.8" height="2.8" fill="#ff1414"/><rect x="479.3" y="23.7" width="2.8" height="2.8" fill="#ff1414"/><rect x="484.9" y="23.7" width="2.8" height="2.8" fill="#ff1414"/><rect x="490.5" y="23.7" width="2.8" height="2.8" fill="#ff1414"/>
<path d="M380.3 122.1L383.5 116.4L386.7 111.6L389.9 107.7L393.1 103.1L396.3 100.7L399.5 99.6L402.7 98.5L405.9 97.8L409.1 96.3L412.3 92.1L415.5 89.7L418.7 84.9L421.9 82.3L425.1 80.5L428.3 79.4" fill="none" stroke="#1a1aff" stroke-width="0.8"/>
<rect x="378.9" y="120.7" width="2.8" height="2.8" fill="#1a1aff"/><rect x="382.1" y="115.0" width="2.8" height="2.8" fill="#1a1aff"/><rect x="385.3" y="110.2" width="2.8" height="2.8" fill="#1a1aff"/><rect x="388.5" y="106.3" width="2.8" height="2.8" fill="#1a1aff"/><rect x="391.7" y="101.7" width="2.8" height="2.8" fill="#1a1aff"/><rect x="394.9" y="99.3" width="2.8" height="2.8" fill="#1a1aff"/><rect x="398.1" y="98.2" width="2.8" height="2.8" fill="#1a1aff"/><rect x="401.3" y="97.1" width="2.8" height="2.8" fill="#1a1aff"/><rect x="404.5" y="96.4" width="2.8" height="2.8" fill="#1a1aff"/><rect x="407.7" y="94.9" width="2.8" height="2.8" fill="#1a1aff"/><rect x="410.9" y="90.7" width="2.8" height="2.8" fill="#1a1aff"/><rect x="414.1" y="88.3" width="2.8" height="2.8" fill="#1a1aff"/><rect x="417.3" y="83.5" width="2.8" height="2.8" fill="#1a1aff"/><rect x="420.5" y="80.9" width="2.8" height="2.8" fill="#1a1aff"/><rect x="423.7" y="79.1" width="2.8" height="2.8" fill="#1a1aff"/><rect x="426.9" y="78.0" width="2.8" height="2.8" fill="#1a1aff"/>
<path d="M380.3 123.0L383.5 118.6L386.7 110.9L389.9 105.7L393.1 101.3L396.3 93.9L399.5 88.6L402.7 84.9L405.9 83.8L409.1 83.4L412.3 83.4L415.5 83.6L418.7 83.6L421.9 82.7L425.1 82.0L428.3 79.4" fill="none" stroke="#ff1414" stroke-width="0.8"/>
<rect x="378.9" y="121.6" width="2.8" height="2.8" fill="#ff1414"/><rect x="382.1" y="117.2" width="2.8" height="2.8" fill="#ff1414"/><rect x="385.3" y="109.5" width="2.8" height="2.8" fill="#ff1414"/><rect x="388.5" y="104.3" width="2.8" height="2.8" fill="#ff1414"/><rect x="391.7" y="99.9" width="2.8" height="2.8" fill="#ff1414"/><rect x="394.9" y="92.5" width="2.8" height="2.8" fill="#ff1414"/><rect x="398.1" y="87.2" width="2.8" height="2.8" fill="#ff1414"/><rect x="401.3" y="83.5" width="2.8" height="2.8" fill="#ff1414"/><rect x="404.5" y="82.4" width="2.8" height="2.8" fill="#ff1414"/><rect x="407.7" y="82.0" width="2.8" height="2.8" fill="#ff1414"/><rect x="410.9" y="82.0" width="2.8" height="2.8" fill="#ff1414"/><rect x="414.1" y="82.2" width="2.8" height="2.8" fill="#ff1414"/><rect x="417.3" y="82.2" width="2.8" height="2.8" fill="#ff1414"/><rect x="420.5" y="81.3" width="2.8" height="2.8" fill="#ff1414"/><rect x="423.7" y="80.6" width="2.8" height="2.8" fill="#ff1414"/><rect x="426.9" y="78.0" width="2.8" height="2.8" fill="#ff1414"/>
<path d="M380.3 183.2L381.6 180.1L382.9 176.9L384.2 173.8L385.5 170.6L386.8 167.5L388.1 164.3L389.4 161.2L390.7 158.1L392.0 154.9L393.3 151.8L394.6 148.6L395.9 145.5L397.2 142.3L398.5 139.2" fill="none" stroke="#1a1aff" stroke-width="0.8"/>
<rect x="378.9" y="181.8" width="2.8" height="2.8" fill="#1a1aff"/><rect x="380.2" y="178.7" width="2.8" height="2.8" fill="#1a1aff"/><rect x="381.5" y="175.5" width="2.8" height="2.8" fill="#1a1aff"/><rect x="382.8" y="172.4" width="2.8" height="2.8" fill="#1a1aff"/><rect x="384.1" y="169.2" width="2.8" height="2.8" fill="#1a1aff"/><rect x="385.4" y="166.1" width="2.8" height="2.8" fill="#1a1aff"/><rect x="386.7" y="162.9" width="2.8" height="2.8" fill="#1a1aff"/><rect x="388.0" y="159.8" width="2.8" height="2.8" fill="#1a1aff"/><rect x="389.3" y="156.7" width="2.8" height="2.8" fill="#1a1aff"/><rect x="390.6" y="153.5" width="2.8" height="2.8" fill="#1a1aff"/><rect x="391.9" y="150.4" width="2.8" height="2.8" fill="#1a1aff"/><rect x="393.2" y="147.2" width="2.8" height="2.8" fill="#1a1aff"/><rect x="394.5" y="144.1" width="2.8" height="2.8" fill="#1a1aff"/><rect x="395.8" y="140.9" width="2.8" height="2.8" fill="#1a1aff"/><rect x="397.1" y="137.8" width="2.8" height="2.8" fill="#1a1aff"/>
<path d="M380.3 183.2L381.6 179.2L382.9 175.2L384.2 171.2L385.5 167.2L386.8 163.2L388.1 159.2L389.4 155.2L390.7 151.2L392.0 147.2L393.3 143.2L394.6 139.2L395.9 139.2L397.2 139.2L398.5 139.2" fill="none" stroke="#ff1414" stroke-width="0.8"/>
<rect x="378.9" y="181.8" width="2.8" height="2.8" fill="#ff1414"/><rect x="380.2" y="177.8" width="2.8" height="2.8" fill="#ff1414"/><rect x="381.5" y="173.8" width="2.8" height="2.8" fill="#ff1414"/><rect x="382.8" y="169.8" width="2.8" height="2.8" fill="#ff1414"/><rect x="384.1" y="165.8" width="2.8" height="2.8" fill="#ff1414"/><rect x="385.4" y="161.8" width="2.8" height="2.8" fill="#ff1414"/><rect x="386.7" y="157.8" width="2.8" height="2.8" fill="#ff1414"/><rect x="388.0" y="153.8" width="2.8" height="2.8" fill="#ff1414"/><rect x="389.3" y="149.8" width="2.8" height="2.8" fill="#ff1414"/><rect x="390.6" y="145.8" width="2.8" height="2.8" fill="#ff1414"/><rect x="391.9" y="141.8" width="2.8" height="2.8" fill="#ff1414"/><rect x="393.2" y="137.8" width="2.8" height="2.8" fill="#ff1414"/><rect x="394.5" y="137.8" width="2.8" height="2.8" fill="#ff1414"/><rect x="395.8" y="137.8" width="2.8" height="2.8" fill="#ff1414"/><rect x="397.1" y="137.8" width="2.8" height="2.8" fill="#ff1414"/>
<clipPath id="ce"><rect x="531.3" y="13.6" width="152.3" height="12.8"/><rect x="531.3" y="28.3" width="152.3" height="12.3"/><rect x="531.3" y="42.4" width="152.3" height="12.1"/><rect x="531.3" y="56.3" width="152.3" height="13.1"/><rect x="531.3" y="71.2" width="152.3" height="11.5"/><rect x="531.3" y="84.3" width="152.3" height="12.3"/><rect x="531.3" y="101" width="152.3" height="13.3"/><rect x="531.3" y="116.2" width="152.3" height="11.8"/><rect x="531.3" y="129.8" width="152.3" height="11.8"/><rect x="531.3" y="143.4" width="152.3" height="14.2"/><rect x="531.3" y="159.6" width="152.3" height="11.8"/><rect x="531.3" y="173.2" width="152.3" height="13.1"/></clipPath>
<g clip-path="url(#ce)"><g filter="url(#noise)">
<rect x="531.3" y="13" width="152.3" height="174" fill="#808080"/>
<path d="M562.6 15.1L582.3 15.1L580.3 24.4L560.6 24.4Z" fill="#fff" opacity="0.85" filter="url(#blur1)"/>
<path d="M581.0 29.8L599.0 29.8L597.0 38.6L579.0 38.6Z" fill="#fff" opacity="0.75" filter="url(#blur1)"/>
<path d="M598.8 43.9L612.4 43.9L610.4 52.5L596.8 52.5Z" fill="#fff" opacity="0.55" filter="url(#blur1)"/>
<path d="M612.4 57.8L628.0 57.8L626.0 67.4L610.4 67.4Z" fill="#fff" opacity="0.8" filter="url(#blur1)"/>
<path d="M626.8 72.7L641.0 72.7L639.0 80.7L624.8 80.7Z" fill="#fff" opacity="0.6" filter="url(#blur1)"/>
<path d="M641.1 85.8L655.5 85.8L651.1 94.6L636.7 94.6Z" fill="#fff" opacity="0.85" filter="url(#blur1)"/>
<path d="M555.2 103.0L568.7 103.0L575.3 113.3L561.8 113.3Z" fill="#111" opacity="0.85" filter="url(#blur1)"/>
<path d="M567.2 118.2L582.7 118.2L589.3 127.0L573.8 127.0Z" fill="#111" opacity="0.85" filter="url(#blur1)"/>
<path d="M580.7 131.8L589.2 131.8L595.8 140.6L587.3 140.6Z" fill="#111" opacity="0.65" filter="url(#blur1)"/>
<path d="M587.2 145.4L596.7 145.4L603.3 156.6L593.8 156.6Z" fill="#111" opacity="0.7" filter="url(#blur1)"/>
<path d="M595.7 161.6L602.7 161.6L609.3 170.4L602.3 170.4Z" fill="#111" opacity="0.2" filter="url(#blur1)"/>
<g filter="url(#blur05)"><rect x="556" y="101.3" width="98" height="1.1" fill="#fff" opacity="0.45"/><rect x="560" y="111.9" width="92" height="1.0" fill="#fff" opacity="0.35"/><rect x="575" y="102.4" width="70" height="0.9" fill="#000" opacity="0.3"/><rect x="600" y="112.9" width="56" height="0.9" fill="#000" opacity="0.35"/><rect x="531.3" y="101" width="1.2" height="13.3" fill="#fff" opacity="0.5"/><path d="M650 113.3q4 -4 7 0" stroke="#000" stroke-width="1" fill="none" opacity="0.6"/><rect x="556" y="130.1" width="98" height="1.1" fill="#fff" opacity="0.45"/><rect x="560" y="139.2" width="92" height="1.0" fill="#fff" opacity="0.35"/><rect x="575" y="131.2" width="70" height="0.9" fill="#000" opacity="0.3"/><rect x="600" y="140.2" width="56" height="0.9" fill="#000" opacity="0.35"/><rect x="531.3" y="129.8" width="1.2" height="11.8" fill="#fff" opacity="0.5"/><path d="M650 140.6q4 -4 7 0" stroke="#000" stroke-width="1" fill="none" opacity="0.6"/><rect x="556" y="143.7" width="98" height="1.1" fill="#fff" opacity="0.45"/><rect x="560" y="155.2" width="92" height="1.0" fill="#fff" opacity="0.35"/><rect x="575" y="144.8" width="70" height="0.9" fill="#000" opacity="0.3"/><rect x="600" y="156.2" width="56" height="0.9" fill="#000" opacity="0.35"/><rect x="531.3" y="143.4" width="1.2" height="14.2" fill="#fff" opacity="0.5"/><path d="M650 156.6q4 -4 7 0" stroke="#000" stroke-width="1" fill="none" opacity="0.6"/><rect x="556" y="159.9" width="98" height="1.1" fill="#fff" opacity="0.45"/><rect x="560" y="169.0" width="92" height="1.0" fill="#fff" opacity="0.35"/><rect x="575" y="161.0" width="70" height="0.9" fill="#000" opacity="0.3"/><rect x="600" y="170.0" width="56" height="0.9" fill="#000" opacity="0.35"/><rect x="531.3" y="159.6" width="1.2" height="11.8" fill="#fff" opacity="0.5"/><path d="M650 170.4q4 -4 7 0" stroke="#000" stroke-width="1" fill="none" opacity="0.6"/><rect x="560" y="29.5" width="60" height="0.8" fill="#000" opacity="0.25"/><path d="M650 39.6q4 -4 7 0" stroke="#fff" stroke-width="1" fill="none" opacity="0.5"/><rect x="560" y="43.6" width="60" height="0.8" fill="#000" opacity="0.25"/><path d="M650 53.5q4 -4 7 0" stroke="#fff" stroke-width="1" fill="none" opacity="0.5"/><rect x="560" y="57.5" width="60" height="0.8" fill="#000" opacity="0.25"/><path d="M650 68.4q4 -4 7 0" stroke="#fff" stroke-width="1" fill="none" opacity="0.5"/><rect x="560" y="72.4" width="60" height="0.8" fill="#000" opacity="0.25"/><path d="M650 81.7q4 -4 7 0" stroke="#fff" stroke-width="1" fill="none" opacity="0.5"/><rect x="533.0" y="144.9" width="1.2" height="10.2" fill="#fff" opacity="0.2"/><rect x="536.3" y="144.9" width="1.2" height="10.2" fill="#fff" opacity="0.2"/><rect x="539.6" y="144.9" width="1.2" height="10.2" fill="#fff" opacity="0.2"/><rect x="542.9" y="144.9" width="1.2" height="10.2" fill="#fff" opacity="0.2"/><rect x="546.2" y="144.9" width="1.2" height="10.2" fill="#fff" opacity="0.2"/><rect x="549.5" y="144.9" width="1.2" height="10.2" fill="#fff" opacity="0.2"/><rect x="552.8" y="144.9" width="1.2" height="10.2" fill="#fff" opacity="0.2"/><rect x="556.1" y="144.9" width="1.2" height="10.2" fill="#fff" opacity="0.2"/><rect x="658.0" y="144.9" width="1.2" height="10.2" fill="#fff" opacity="0.2"/><rect x="661.2" y="144.9" width="1.2" height="10.2" fill="#fff" opacity="0.2"/><rect x="664.4" y="144.9" width="1.2" height="10.2" fill="#fff" opacity="0.2"/><rect x="667.6" y="144.9" width="1.2" height="10.2" fill="#fff" opacity="0.2"/><rect x="670.8" y="144.9" width="1.2" height="10.2" fill="#fff" opacity="0.2"/><rect x="674.0" y="144.9" width="1.2" height="10.2" fill="#fff" opacity="0.2"/><rect x="677.2" y="144.9" width="1.2" height="10.2" fill="#fff" opacity="0.2"/><rect x="680.4" y="144.9" width="1.2" height="10.2" fill="#fff" opacity="0.2"/></g>
</g></g>
<rect x="658.6" y="90.3" width="22.3" height="2.6" fill="#000"/>
<rect x="659" y="180.6" width="22.3" height="2.6" fill="#000"/>
<g>
<rect x="58.60" y="273.40" width="21.30" height="12.40" fill="#bf1c00"/>
<rect x="78.90" y="273.40" width="20.30" height="12.40" fill="#38ad1c"/>
<rect x="98.20" y="273.40" width="20.30" height="12.40" fill="#38ad1c"/>
<rect x="117.50" y="273.40" width="19.20" height="12.40" fill="#38ad1c"/>
<rect x="58.60" y="284.80" width="21.30" height="12.80" fill="#38ad1c"/>
<rect x="78.90" y="284.80" width="20.30" height="12.80" fill="#38ad1c"/>
<rect x="98.20" y="284.80" width="20.30" height="12.80" fill="#38ad1c"/>
<rect x="117.50" y="284.80" width="19.20" height="12.80" fill="#38ad1c"/>
<rect x="58.60" y="296.60" width="21.30" height="13.80" fill="#38ad1c"/>
<rect x="78.90" y="296.60" width="20.30" height="13.80" fill="#38ad1c"/>
<rect x="98.20" y="296.60" width="20.30" height="13.80" fill="#38ad1c"/>
<rect x="117.50" y="296.60" width="19.20" height="13.80" fill="#38ad1c"/>
<rect x="58.60" y="309.40" width="21.30" height="13.20" fill="#38ad1c"/>
<rect x="78.90" y="309.40" width="20.30" height="13.20" fill="#38ad1c"/>
<rect x="98.20" y="309.40" width="20.30" height="13.20" fill="#38ad1c"/>
<rect x="117.50" y="309.40" width="19.20" height="13.20" fill="#38ad1c"/>
<rect x="58.60" y="321.60" width="21.30" height="13.30" fill="#38ad1c"/>
<rect x="78.90" y="321.60" width="20.30" height="13.30" fill="#38ad1c"/>
<rect x="98.20" y="321.60" width="20.30" height="13.30" fill="#38ad1c"/>
<rect x="117.50" y="321.60" width="19.20" height="13.30" fill="#38ad1c"/>
<rect x="58.60" y="333.90" width="21.30" height="13.10" fill="#38ad1c"/>
<rect x="78.90" y="333.90" width="20.30" height="13.10" fill="#38ad1c"/>
<rect x="98.20" y="333.90" width="20.30" height="13.10" fill="#38ad1c"/>
<rect x="117.50" y="333.90" width="19.20" height="13.10" fill="#38ad1c"/>
<rect x="58.60" y="346.00" width="21.30" height="13.00" fill="#38ad1c"/>
<rect x="78.90" y="346.00" width="20.30" height="13.00" fill="#38ad1c"/>
<rect x="98.20" y="346.00" width="20.30" height="13.00" fill="#38ad1c"/>
<rect x="117.50" y="346.00" width="19.20" height="13.00" fill="#38ad1c"/>
<rect x="58.60" y="358.00" width="21.30" height="12.40" fill="#38ad1c"/>
<rect x="78.90" y="358.00" width="20.30" height="12.40" fill="#38ad1c"/>
<rect x="98.20" y="358.00" width="20.30" height="12.40" fill="#38ad1c"/>
<rect x="117.50" y="358.00" width="19.20" height="12.40" fill="#38ad1c"/>
<rect x="58.60" y="369.40" width="21.30" height="12.20" fill="#38ad1c"/>
<rect x="78.90" y="369.40" width="20.30" height="12.20" fill="#38ad1c"/>
<rect x="98.20" y="369.40" width="20.30" height="12.20" fill="#38ad1c"/>
<rect x="117.50" y="369.40" width="19.20" height="12.20" fill="#38ad1c"/>
<rect x="136.30" y="296.60" width="21.90" height="13.80" fill="#38ad1c"/>
<rect x="157.20" y="296.60" width="20.45" height="13.80" fill="#bf1c00"/>
<rect x="176.65" y="296.60" width="20.45" height="13.80" fill="#bf1c00"/>
<rect x="196.10" y="296.60" width="20.70" height="13.80" fill="#38ad1c"/>
<rect x="136.30" y="309.40" width="21.90" height="13.20" fill="#38ad1c"/>
<rect x="157.20" y="309.40" width="20.45" height="13.20" fill="#bf1c00"/>
<rect x="176.65" y="309.40" width="20.45" height="13.20" fill="#bf1c00"/>
<rect x="196.10" y="309.40" width="20.70" height="13.20" fill="#38ad1c"/>
<rect x="136.30" y="321.60" width="21.90" height="13.30" fill="#38ad1c"/>
<rect x="157.20" y="321.60" width="20.45" height="13.30" fill="#bf1c00"/>
<rect x="176.65" y="321.60" width="20.45" height="13.30" fill="#bf1c00"/>
<rect x="196.10" y="321.60" width="20.70" height="13.30" fill="#38ad1c"/>
<rect x="136.30" y="333.90" width="21.90" height="13.10" fill="#38ad1c"/>
<rect x="157.20" y="333.90" width="20.45" height="13.10" fill="#bf1c00"/>
<rect x="176.65" y="333.90" width="20.45" height="13.10" fill="#bf1c00"/>
<rect x="196.10" y="333.90" width="20.70" height="13.10" fill="#38ad1c"/>
<rect x="136.30" y="346.00" width="21.90" height="13.00" fill="#38ad1c"/>
<rect x="157.20" y="346.00" width="20.45" height="13.00" fill="#38ad1c"/>
<rect x="176.65" y="346.00" width="20.45" height="13.00" fill="#38ad1c"/>
<rect x="196.10" y="346.00" width="20.70" height="13.00" fill="#38ad1c"/>
<rect x="136.30" y="358.00" width="21.90" height="12.40" fill="#38ad1c"/>
<rect x="157.20" y="358.00" width="20.45" height="12.40" fill="#38ad1c"/>
<rect x="176.65" y="358.00" width="20.45" height="12.40" fill="#38ad1c"/>
<rect x="196.10" y="358.00" width="20.70" height="12.40" fill="#38ad1c"/>
<rect x="136.30" y="369.40" width="21.90" height="12.20" fill="#38ad1c"/>
<rect x="157.20" y="369.40" width="20.45" height="12.20" fill="#38ad1c"/>
<rect x="176.65" y="369.40" width="20.45" height="12.20" fill="#38ad1c"/>
<rect x="196.10" y="369.40" width="20.70" height="12.20" fill="#38ad1c"/>
<rect x="216.40" y="296.60" width="19.70" height="13.80" fill="#bf1c00"/>
<rect x="235.10" y="296.60" width="20.65" height="13.80" fill="#38ad1c"/>
<rect x="254.75" y="296.60" width="20.65" height="13.80" fill="#38ad1c"/>
<rect x="274.40" y="296.60" width="20.50" height="13.80" fill="#bf1c00"/>
<rect x="216.40" y="309.40" width="19.70" height="13.20" fill="#bf1c00"/>
<rect x="235.10" y="309.40" width="20.65" height="13.20" fill="#38ad1c"/>
<rect x="254.75" y="309.40" width="20.65" height="13.20" fill="#38ad1c"/>
<rect x="274.40" y="309.40" width="20.50" height="13.20" fill="#bf1c00"/>
<rect x="216.40" y="321.60" width="19.70" height="13.30" fill="#bf1c00"/>
<rect x="235.10" y="321.60" width="20.65" height="13.30" fill="#38ad1c"/>
<rect x="254.75" y="321.60" width="20.65" height="13.30" fill="#38ad1c"/>
<rect x="274.40" y="321.60" width="20.50" height="13.30" fill="#bf1c00"/>
<rect x="216.40" y="333.90" width="19.70" height="13.10" fill="#bf1c00"/>
<rect x="235.10" y="333.90" width="20.65" height="13.10" fill="#38ad1c"/>
<rect x="254.75" y="333.90" width="20.65" height="13.10" fill="#38ad1c"/>
<rect x="274.40" y="333.90" width="20.50" height="13.10" fill="#bf1c00"/>
<rect x="216.40" y="346.00" width="19.70" height="13.00" fill="#38ad1c"/>
<rect x="235.10" y="346.00" width="20.65" height="13.00" fill="#38ad1c"/>
<rect x="254.75" y="346.00" width="20.65" height="13.00" fill="#38ad1c"/>
<rect x="274.40" y="346.00" width="20.50" height="13.00" fill="#38ad1c"/>
<rect x="216.40" y="358.00" width="19.70" height="12.40" fill="#38ad1c"/>
<rect x="235.10" y="358.00" width="20.65" height="12.40" fill="#38ad1c"/>
<rect x="254.75" y="358.00" width="20.65" height="12.40" fill="#38ad1c"/>
<rect x="274.40" y="358.00" width="20.50" height="12.40" fill="#38ad1c"/>
<rect x="216.40" y="369.40" width="19.70" height="12.20" fill="#38ad1c"/>
<rect x="235.10" y="369.40" width="20.65" height="12.20" fill="#38ad1c"/>
<rect x="254.75" y="369.40" width="20.65" height="12.20" fill="#38ad1c"/>
<rect x="274.40" y="369.40" width="20.50" height="12.20" fill="#38ad1c"/>
<rect x="294.50" y="284.80" width="20.15" height="12.80" fill="#38ad1c"/>
<rect x="313.65" y="284.80" width="20.35" height="12.80" fill="#bf1c00"/>
<rect x="333.00" y="284.80" width="20.15" height="12.80" fill="#bf1c00"/>
<rect x="352.15" y="284.80" width="20.85" height="12.80" fill="#38ad1c"/>
<rect x="294.50" y="296.60" width="20.15" height="13.80" fill="#38ad1c"/>
<rect x="313.65" y="296.60" width="20.35" height="13.80" fill="#bf1c00"/>
<rect x="333.00" y="296.60" width="20.15" height="13.80" fill="#ff9505"/>
<rect x="352.15" y="296.60" width="20.85" height="13.80" fill="#38ad1c"/>
<rect x="294.50" y="309.40" width="20.15" height="13.20" fill="#38ad1c"/>
<rect x="313.65" y="309.40" width="20.35" height="13.20" fill="#bf1c00"/>
<rect x="333.00" y="309.40" width="20.15" height="13.20" fill="#ff9505"/>
<rect x="352.15" y="309.40" width="20.85" height="13.20" fill="#38ad1c"/>
<rect x="294.50" y="321.60" width="20.15" height="13.30" fill="#38ad1c"/>
<rect x="313.65" y="321.60" width="20.35" height="13.30" fill="#bf1c00"/>
<rect x="333.00" y="321.60" width="20.15" height="13.30" fill="#ff9505"/>
<rect x="352.15" y="321.60" width="20.85" height="13.30" fill="#38ad1c"/>
<rect x="294.50" y="333.90" width="20.15" height="13.10" fill="#38ad1c"/>
<rect x="313.65" y="333.90" width="20.35" height="13.10" fill="#bf1c00"/>
<rect x="333.00" y="333.90" width="20.15" height="13.10" fill="#ff9505"/>
<rect x="352.15" y="333.90" width="20.85" height="13.10" fill="#38ad1c"/>
<rect x="294.50" y="346.00" width="20.15" height="13.00" fill="#38ad1c"/>
<rect x="313.65" y="346.00" width="20.35" height="13.00" fill="#ff9505"/>
<rect x="333.00" y="346.00" width="20.15" height="13.00" fill="#ff9505"/>
<rect x="352.15" y="346.00" width="20.85" height="13.00" fill="#38ad1c"/>
<rect x="294.50" y="358.00" width="20.15" height="11.40" fill="#38ad1c"/>
<rect x="313.65" y="358.00" width="20.35" height="11.40" fill="#ff9505"/>
<rect x="333.00" y="358.00" width="20.15" height="11.40" fill="#ff9505"/>
<rect x="352.15" y="358.00" width="20.85" height="11.40" fill="#38ad1c"/>
<rect x="372.60" y="284.80" width="19.80" height="12.80" fill="#bf1c00"/>
<rect x="391.40" y="284.80" width="20.55" height="12.80" fill="#bf1c00"/>
<rect x="410.95" y="284.80" width="20.55" height="12.80" fill="#bf1c00"/>
<rect x="430.50" y="284.80" width="20.60" height="12.80" fill="#bf1c00"/>
<rect x="372.60" y="296.60" width="19.80" height="13.80" fill="#ff9505"/>
<rect x="391.40" y="296.60" width="20.55" height="13.80" fill="#38ad1c"/>
<rect x="410.95" y="296.60" width="20.55" height="13.80" fill="#38ad1c"/>
<rect x="430.50" y="296.60" width="20.60" height="13.80" fill="#ff9505"/>
<rect x="372.60" y="309.40" width="19.80" height="13.20" fill="#ff9505"/>
<rect x="391.40" y="309.40" width="20.55" height="13.20" fill="#38ad1c"/>
<rect x="410.95" y="309.40" width="20.55" height="13.20" fill="#38ad1c"/>
<rect x="430.50" y="309.40" width="20.60" height="13.20" fill="#ff9505"/>
<rect x="372.60" y="321.60" width="19.80" height="13.30" fill="#ff9505"/>
<rect x="391.40" y="321.60" width="20.55" height="13.30" fill="#38ad1c"/>
<rect x="410.95" y="321.60" width="20.55" height="13.30" fill="#38ad1c"/>
<rect x="430.50" y="321.60" width="20.60" height="13.30" fill="#ff9505"/>
<rect x="372.60" y="333.90" width="19.80" height="13.10" fill="#ff9505"/>
<rect x="391.40" y="333.90" width="20.55" height="13.10" fill="#38ad1c"/>
<rect x="410.95" y="333.90" width="20.55" height="13.10" fill="#38ad1c"/>
<rect x="430.50" y="333.90" width="20.60" height="13.10" fill="#ff9505"/>
<rect x="372.60" y="346.00" width="19.80" height="13.00" fill="#ff9505"/>
<rect x="391.40" y="346.00" width="20.55" height="13.00" fill="#38ad1c"/>
<rect x="410.95" y="346.00" width="20.55" height="13.00" fill="#38ad1c"/>
<rect x="430.50" y="346.00" width="20.60" height="13.00" fill="#ff9505"/>
<rect x="372.60" y="358.00" width="19.80" height="11.40" fill="#38ad1c"/>
<rect x="391.40" y="358.00" width="20.55" height="11.40" fill="#38ad1c"/>
<rect x="410.95" y="358.00" width="20.55" height="11.40" fill="#38ad1c"/>
<rect x="430.50" y="358.00" width="20.60" height="11.40" fill="#ff9505"/>
<rect x="450.70" y="284.80" width="20.00" height="12.80" fill="#bf1c00"/>
<rect x="469.70" y="284.80" width="20.30" height="12.80" fill="#bf1c00"/>
<rect x="489.00" y="284.80" width="20.70" height="12.80" fill="#bf1c00"/>
<rect x="508.70" y="284.80" width="20.50" height="12.80" fill="#bf1c00"/>
<rect x="450.70" y="296.60" width="20.00" height="13.80" fill="#38ad1c"/>
<rect x="469.70" y="296.60" width="20.30" height="13.80" fill="#bf1c00"/>
<rect x="489.00" y="296.60" width="20.70" height="13.80" fill="#bf1c00"/>
<rect x="508.70" y="296.60" width="20.50" height="13.80" fill="#38ad1c"/>
<rect x="450.70" y="309.40" width="20.00" height="13.20" fill="#38ad1c"/>
<rect x="469.70" y="309.40" width="20.30" height="13.20" fill="#bf1c00"/>
<rect x="489.00" y="309.40" width="20.70" height="13.20" fill="#bf1c00"/>
<rect x="508.70" y="309.40" width="20.50" height="13.20" fill="#38ad1c"/>
<rect x="450.70" y="321.60" width="20.00" height="13.30" fill="#38ad1c"/>
<rect x="469.70" y="321.60" width="20.30" height="13.30" fill="#bf1c00"/>
<rect x="489.00" y="321.60" width="20.70" height="13.30" fill="#bf1c00"/>
<rect x="508.70" y="321.60" width="20.50" height="13.30" fill="#38ad1c"/>
<rect x="450.70" y="333.90" width="20.00" height="13.10" fill="#38ad1c"/>
<rect x="469.70" y="333.90" width="20.30" height="13.10" fill="#bf1c00"/>
<rect x="489.00" y="333.90" width="20.70" height="13.10" fill="#bf1c00"/>
<rect x="508.70" y="333.90" width="20.50" height="13.10" fill="#38ad1c"/>
<rect x="450.70" y="346.00" width="20.00" height="13.00" fill="#38ad1c"/>
<rect x="469.70" y="346.00" width="20.30" height="13.00" fill="#bf1c00"/>
<rect x="489.00" y="346.00" width="20.70" height="13.00" fill="#bf1c00"/>
<rect x="508.70" y="346.00" width="20.50" height="13.00" fill="#38ad1c"/>
<rect x="450.70" y="358.00" width="20.00" height="12.40" fill="#38ad1c"/>
<rect x="469.70" y="358.00" width="20.30" height="12.40" fill="#bf1c00"/>
<rect x="489.00" y="358.00" width="20.70" height="12.40" fill="#ff9505"/>
<rect x="508.70" y="358.00" width="20.50" height="12.40" fill="#38ad1c"/>
<rect x="450.70" y="369.40" width="20.00" height="12.20" fill="#38ad1c"/>
<rect x="469.70" y="369.40" width="20.30" height="12.20" fill="#ff9505"/>
<rect x="489.00" y="369.40" width="20.70" height="12.20" fill="#ff9505"/>
<rect x="508.70" y="369.40" width="20.50" height="12.20" fill="#38ad1c"/>
<rect x="528.80" y="296.60" width="20.15" height="13.80" fill="#ff9505"/>
<rect x="547.95" y="296.60" width="20.45" height="13.80" fill="#38ad1c"/>
<rect x="567.40" y="296.60" width="20.50" height="13.80" fill="#38ad1c"/>
<rect x="586.90" y="296.60" width="19.55" height="13.80" fill="#ff9505"/>
<rect x="528.80" y="309.40" width="20.15" height="13.20" fill="#ff9505"/>
<rect x="547.95" y="309.40" width="20.45" height="13.20" fill="#38ad1c"/>
<rect x="567.40" y="309.40" width="20.50" height="13.20" fill="#38ad1c"/>
<rect x="586.90" y="309.40" width="19.55" height="13.20" fill="#ff9505"/>
<rect x="528.80" y="321.60" width="20.15" height="13.30" fill="#ff9505"/>
<rect x="547.95" y="321.60" width="20.45" height="13.30" fill="#38ad1c"/>
<rect x="567.40" y="321.60" width="20.50" height="13.30" fill="#38ad1c"/>
<rect x="586.90" y="321.60" width="19.55" height="13.30" fill="#ff9505"/>
<rect x="528.80" y="333.90" width="20.15" height="13.10" fill="#ff9505"/>
<rect x="547.95" y="333.90" width="20.45" height="13.10" fill="#38ad1c"/>
<rect x="567.40" y="333.90" width="20.50" height="13.10" fill="#38ad1c"/>
<rect x="586.90" y="333.90" width="19.55" height="13.10" fill="#ff9505"/>
<rect x="528.80" y="346.00" width="20.15" height="13.00" fill="#bf1c00"/>
<rect x="547.95" y="346.00" width="20.45" height="13.00" fill="#38ad1c"/>
<rect x="567.40" y="346.00" width="20.50" height="13.00" fill="#38ad1c"/>
<rect x="586.90" y="346.00" width="19.55" height="13.00" fill="#bf1c00"/>
<rect x="528.80" y="358.00" width="20.15" height="12.40" fill="#ff9505"/>
<rect x="547.95" y="358.00" width="20.45" height="12.40" fill="#38ad1c"/>
<rect x="567.40" y="358.00" width="20.50" height="12.40" fill="#38ad1c"/>
<rect x="586.90" y="358.00" width="19.55" height="12.40" fill="#ff9505"/>
<rect x="528.80" y="369.40" width="20.15" height="12.20" fill="#bf1c00"/>
<rect x="547.95" y="369.40" width="20.45" height="12.20" fill="#38ad1c"/>
<rect x="567.40" y="369.40" width="20.50" height="12.20" fill="#38ad1c"/>
<rect x="586.90" y="369.40" width="19.55" height="12.20" fill="#bf1c00"/>
<rect x="606.05" y="284.80" width="20.95" height="12.80" fill="#bf1c00"/>
<rect x="626.00" y="284.80" width="20.50" height="12.80" fill="#bf1c00"/>
<rect x="645.50" y="284.80" width="20.50" height="12.80" fill="#bf1c00"/>
<rect x="665.00" y="284.80" width="20.90" height="12.80" fill="#bf1c00"/>
<rect x="606.05" y="296.60" width="20.95" height="13.80" fill="#bf1c00"/>
<rect x="626.00" y="296.60" width="20.50" height="13.80" fill="#38ad1c"/>
<rect x="645.50" y="296.60" width="20.50" height="13.80" fill="#38ad1c"/>
<rect x="665.00" y="296.60" width="20.90" height="13.80" fill="#bf1c00"/>
<rect x="606.05" y="309.40" width="20.95" height="13.20" fill="#bf1c00"/>
<rect x="626.00" y="309.40" width="20.50" height="13.20" fill="#38ad1c"/>
<rect x="645.50" y="309.40" width="20.50" height="13.20" fill="#38ad1c"/>
<rect x="665.00" y="309.40" width="20.90" height="13.20" fill="#bf1c00"/>
<rect x="606.05" y="321.60" width="20.95" height="13.30" fill="#bf1c00"/>
<rect x="626.00" y="321.60" width="20.50" height="13.30" fill="#38ad1c"/>
<rect x="645.50" y="321.60" width="20.50" height="13.30" fill="#38ad1c"/>
<rect x="665.00" y="321.60" width="20.90" height="13.30" fill="#bf1c00"/>
<rect x="606.05" y="333.90" width="20.95" height="13.10" fill="#bf1c00"/>
<rect x="626.00" y="333.90" width="20.50" height="13.10" fill="#38ad1c"/>
<rect x="645.50" y="333.90" width="20.50" height="13.10" fill="#38ad1c"/>
<rect x="665.00" y="333.90" width="20.90" height="13.10" fill="#bf1c00"/>
<rect x="606.05" y="346.00" width="20.95" height="13.00" fill="#bf1c00"/>
<rect x="626.00" y="346.00" width="20.50" height="13.00" fill="#38ad1c"/>
<rect x="645.50" y="346.00" width="20.50" height="13.00" fill="#38ad1c"/>
<rect x="665.00" y="346.00" width="20.90" height="13.00" fill="#bf1c00"/>
<rect x="606.05" y="358.00" width="20.95" height="12.40" fill="#bf1c00"/>
<rect x="626.00" y="358.00" width="20.50" height="12.40" fill="#38ad1c"/>
<rect x="645.50" y="358.00" width="20.50" height="12.40" fill="#38ad1c"/>
<rect x="665.00" y="358.00" width="20.90" height="12.40" fill="#bf1c00"/>
<rect x="606.05" y="369.40" width="20.95" height="12.20" fill="#bf1c00"/>
<rect x="626.00" y="369.40" width="20.50" height="12.20" fill="#38ad1c"/>
<rect x="645.50" y="369.40" width="20.50" height="12.20" fill="#38ad1c"/>
<rect x="665.00" y="369.40" width="20.90" height="12.20" fill="#bf1c00"/>
</g>
<path d="M2.8 273.4H685M58.6 296.2H528.85M606.05 296.2H685M528.85 310.2H606.05" stroke="#000" stroke-width="1.1" fill="none"/>
<path d="M58.6 237.8V382M136.3 237.8V382M216.4 237.8V382M294.5 237.8V382M372.6 237.8V382M450.75 237.8V382M528.85 237.8V382M606.05 237.8V382" stroke="#000" stroke-width="1.15" fill="none"/>
<text x="50.7" y="246.9" text-anchor="end" word-spacing="0">Twist, <tspan font-style="italic">ζ</tspan> (°)</text>
<text x="57.6" y="263.6" text-anchor="end" word-spacing="0.6"><tspan font-style="italic">J</tspan> (10<tspan font-size="5.8" dy="-3.3">8</tspan><tspan dy="3.3"> A cm</tspan><tspan font-size="5.8" dy="-3.3">−2</tspan><tspan dy="3.3">)</tspan></text>
<text x="29.1" y="282.2" text-anchor="middle">0.50–0.60</text>
<text x="29.1" y="294.3" text-anchor="middle">0.70–0.80</text>
<text x="29.1" y="306.3" text-anchor="middle">0.80–0.90</text>
<text x="29.1" y="318.4" text-anchor="middle">0.90–1.00</text>
<text x="29.1" y="330.5" text-anchor="middle">1.00–1.10</text>
<text x="29.1" y="342.6" text-anchor="middle">1.10–1.21</text>
<text x="29.1" y="354.6" text-anchor="middle">1.25–1.35</text>
<text x="29.1" y="366.7" text-anchor="middle">1.40–1.52</text>
<text x="29.1" y="378.8" text-anchor="middle">1.57–1.70</text>
<text x="97.5" y="246.7" text-anchor="middle" font-size="8.9">0°</text>
<path d="M68.7 248.4H126.5M64.0 262.4H92.5M101.8 262.4H130.7" stroke="#222" stroke-width="0.8"/>
<text y="259" word-spacing="0"><tspan x="66.2">+</tspan><tspan x="71.5" font-style="italic">J</tspan><tspan x="76.1">(</tspan><tspan x="79.3" font-family='"DejaVu Sans", sans-serif' font-size="9.3" dy="0.3">→</tspan><tspan x="87.3" dy="-0.3">)</tspan></text>
<text y="259" word-spacing="0"><tspan x="103.0">−</tspan><tspan x="108.8" font-style="italic">J</tspan><tspan x="113.3">(</tspan><tspan x="116.3" font-family='"DejaVu Sans", sans-serif' font-size="9.3" dy="0.3">←</tspan><tspan x="124.2" dy="-0.3">)</tspan></text>
<circle cx="65.2" cy="268.5" r="3.25" fill="none" stroke="#111" stroke-width="0.6"/><circle cx="65.2" cy="268.5" r="0.7" fill="#222"/><circle cx="73.0" cy="268.5" r="3.25" fill="none" stroke="#111" stroke-width="0.6"/><path d="M70.8 266.3L75.2 270.7M70.8 270.7L75.2 266.3" stroke="#111" stroke-width="0.55"/><circle cx="84.2" cy="268.5" r="3.25" fill="none" stroke="#111" stroke-width="0.6"/><path d="M82.0 266.3L86.5 270.7M82.0 270.7L86.5 266.3" stroke="#111" stroke-width="0.55"/><circle cx="92.2" cy="268.5" r="3.25" fill="none" stroke="#111" stroke-width="0.6"/><circle cx="92.2" cy="268.5" r="0.7" fill="#222"/><circle cx="103.2" cy="268.5" r="3.25" fill="none" stroke="#111" stroke-width="0.6"/><circle cx="103.2" cy="268.5" r="0.7" fill="#222"/><circle cx="111.0" cy="268.5" r="3.25" fill="none" stroke="#111" stroke-width="0.6"/><path d="M108.8 266.3L113.2 270.7M108.8 270.7L113.2 266.3" stroke="#111" stroke-width="0.55"/><circle cx="122.2" cy="268.5" r="3.25" fill="none" stroke="#111" stroke-width="0.6"/><path d="M120.0 266.3L124.4 270.7M120.0 270.7L124.4 266.3" stroke="#111" stroke-width="0.55"/><circle cx="130.1" cy="268.5" r="3.25" fill="none" stroke="#111" stroke-width="0.6"/><circle cx="130.1" cy="268.5" r="0.7" fill="#222"/>
<text x="176.4" y="246.7" text-anchor="middle" font-size="8.9">+11°</text>
<path d="M147.6 248.4H205.4M142.9 262.4H171.5M180.7 262.4H209.6" stroke="#222" stroke-width="0.8"/>
<text y="259" word-spacing="0"><tspan x="145.1">+</tspan><tspan x="150.4" font-style="italic">J</tspan><tspan x="155.0">(</tspan><tspan x="158.3" font-family='"DejaVu Sans", sans-serif' font-size="9.3" dy="0.3">→</tspan><tspan x="166.3" dy="-0.3">)</tspan></text>
<text y="259" word-spacing="0"><tspan x="181.9">−</tspan><tspan x="187.7" font-style="italic">J</tspan><tspan x="192.3">(</tspan><tspan x="195.3" font-family='"DejaVu Sans", sans-serif' font-size="9.3" dy="0.3">←</tspan><tspan x="203.2" dy="-0.3">)</tspan></text>
<circle cx="144.1" cy="268.5" r="3.25" fill="none" stroke="#111" stroke-width="0.6"/><circle cx="144.1" cy="268.5" r="0.7" fill="#222"/><circle cx="151.9" cy="268.5" r="3.25" fill="none" stroke="#111" stroke-width="0.6"/><path d="M149.7 266.3L154.1 270.7M149.7 270.7L154.1 266.3" stroke="#111" stroke-width="0.55"/><circle cx="163.2" cy="268.5" r="3.25" fill="none" stroke="#111" stroke-width="0.6"/><path d="M161.0 266.3L165.4 270.7M161.0 270.7L165.4 266.3" stroke="#111" stroke-width="0.55"/><circle cx="171.2" cy="268.5" r="3.25" fill="none" stroke="#111" stroke-width="0.6"/><circle cx="171.2" cy="268.5" r="0.7" fill="#222"/><circle cx="182.1" cy="268.5" r="3.25" fill="none" stroke="#111" stroke-width="0.6"/><circle cx="182.1" cy="268.5" r="0.7" fill="#222"/><circle cx="189.9" cy="268.5" r="3.25" fill="none" stroke="#111" stroke-width="0.6"/><path d="M187.7 266.3L192.1 270.7M187.7 270.7L192.1 266.3" stroke="#111" stroke-width="0.55"/><circle cx="201.1" cy="268.5" r="3.25" fill="none" stroke="#111" stroke-width="0.6"/><path d="M198.9 266.3L203.3 270.7M198.9 270.7L203.3 266.3" stroke="#111" stroke-width="0.55"/><circle cx="209.0" cy="268.5" r="3.25" fill="none" stroke="#111" stroke-width="0.6"/><circle cx="209.0" cy="268.5" r="0.7" fill="#222"/>
<text x="255.4" y="246.7" text-anchor="middle" font-size="8.9">−11°</text>
<path d="M226.7 248.4H284.4M221.9 262.4H250.6M259.8 262.4H288.6" stroke="#222" stroke-width="0.8"/>
<text y="259" word-spacing="0"><tspan x="224.1">+</tspan><tspan x="229.4" font-style="italic">J</tspan><tspan x="234.0">(</tspan><tspan x="237.3" font-family='"DejaVu Sans", sans-serif' font-size="9.3" dy="0.3">→</tspan><tspan x="245.3" dy="-0.3">)</tspan></text>
<text y="259" word-spacing="0"><tspan x="260.9">−</tspan><tspan x="266.8" font-style="italic">J</tspan><tspan x="271.3">(</tspan><tspan x="274.3" font-family='"DejaVu Sans", sans-serif' font-size="9.3" dy="0.3">←</tspan><tspan x="282.2" dy="-0.3">)</tspan></text>
<circle cx="223.2" cy="268.5" r="3.25" fill="none" stroke="#111" stroke-width="0.6"/><circle cx="223.2" cy="268.5" r="0.7" fill="#222"/><circle cx="230.9" cy="268.5" r="3.25" fill="none" stroke="#111" stroke-width="0.6"/><path d="M228.8 266.3L233.1 270.7M228.8 270.7L233.1 266.3" stroke="#111" stroke-width="0.55"/><circle cx="242.2" cy="268.5" r="3.25" fill="none" stroke="#111" stroke-width="0.6"/><path d="M240.1 266.3L244.4 270.7M240.1 270.7L244.4 266.3" stroke="#111" stroke-width="0.55"/><circle cx="250.2" cy="268.5" r="3.25" fill="none" stroke="#111" stroke-width="0.6"/><circle cx="250.2" cy="268.5" r="0.7" fill="#222"/><circle cx="261.1" cy="268.5" r="3.25" fill="none" stroke="#111" stroke-width="0.6"/><circle cx="261.1" cy="268.5" r="0.7" fill="#222"/><circle cx="268.9" cy="268.5" r="3.25" fill="none" stroke="#111" stroke-width="0.6"/><path d="M266.8 266.3L271.1 270.7M266.8 270.7L271.1 266.3" stroke="#111" stroke-width="0.55"/><circle cx="280.1" cy="268.5" r="3.25" fill="none" stroke="#111" stroke-width="0.6"/><path d="M277.9 266.3L282.3 270.7M277.9 270.7L282.3 266.3" stroke="#111" stroke-width="0.55"/><circle cx="288.1" cy="268.5" r="3.25" fill="none" stroke="#111" stroke-width="0.6"/><circle cx="288.1" cy="268.5" r="0.7" fill="#222"/>
<text x="333.6" y="246.7" text-anchor="middle" font-size="8.9">+18°</text>
<path d="M304.8 248.4H362.6M300.1 262.4H328.7M337.9 262.4H366.8" stroke="#222" stroke-width="0.8"/>
<text y="259" word-spacing="0"><tspan x="302.2">+</tspan><tspan x="307.6" font-style="italic">J</tspan><tspan x="312.2">(</tspan><tspan x="315.4" font-family='"DejaVu Sans", sans-serif' font-size="9.3" dy="0.3">→</tspan><tspan x="323.4" dy="-0.3">)</tspan></text>
<text y="259" word-spacing="0"><tspan x="339.1">−</tspan><tspan x="344.9" font-style="italic">J</tspan><tspan x="349.4">(</tspan><tspan x="352.4" font-family='"DejaVu Sans", sans-serif' font-size="9.3" dy="0.3">←</tspan><tspan x="360.4" dy="-0.3">)</tspan></text>
<circle cx="301.2" cy="268.5" r="3.25" fill="none" stroke="#111" stroke-width="0.6"/><circle cx="301.2" cy="268.5" r="0.7" fill="#222"/><circle cx="309.1" cy="268.5" r="3.25" fill="none" stroke="#111" stroke-width="0.6"/><path d="M306.9 266.3L311.2 270.7M306.9 270.7L311.2 266.3" stroke="#111" stroke-width="0.55"/><circle cx="320.4" cy="268.5" r="3.25" fill="none" stroke="#111" stroke-width="0.6"/><path d="M318.2 266.3L322.6 270.7M318.2 270.7L322.6 266.3" stroke="#111" stroke-width="0.55"/><circle cx="328.4" cy="268.5" r="3.25" fill="none" stroke="#111" stroke-width="0.6"/><circle cx="328.4" cy="268.5" r="0.7" fill="#222"/><circle cx="339.2" cy="268.5" r="3.25" fill="none" stroke="#111" stroke-width="0.6"/><circle cx="339.2" cy="268.5" r="0.7" fill="#222"/><circle cx="347.1" cy="268.5" r="3.25" fill="none" stroke="#111" stroke-width="0.6"/><path d="M344.9 266.3L349.2 270.7M344.9 270.7L349.2 266.3" stroke="#111" stroke-width="0.55"/><circle cx="358.2" cy="268.5" r="3.25" fill="none" stroke="#111" stroke-width="0.6"/><path d="M356.1 266.3L360.4 270.7M356.1 270.7L360.4 266.3" stroke="#111" stroke-width="0.55"/><circle cx="366.2" cy="268.5" r="3.25" fill="none" stroke="#111" stroke-width="0.6"/><circle cx="366.2" cy="268.5" r="0.7" fill="#222"/>
<text x="411.7" y="246.7" text-anchor="middle" font-size="8.9">−18°</text>
<path d="M382.9 248.4H440.7M378.2 262.4H406.8M416.0 262.4H444.9" stroke="#222" stroke-width="0.8"/>
<text y="259" word-spacing="0"><tspan x="380.4">+</tspan><tspan x="385.7" font-style="italic">J</tspan><tspan x="390.3">(</tspan><tspan x="393.6" font-family='"DejaVu Sans", sans-serif' font-size="9.3" dy="0.3">→</tspan><tspan x="401.6" dy="-0.3">)</tspan></text>
<text y="259" word-spacing="0"><tspan x="417.2">−</tspan><tspan x="423.0" font-style="italic">J</tspan><tspan x="427.6">(</tspan><tspan x="430.6" font-family='"DejaVu Sans", sans-serif' font-size="9.3" dy="0.3">←</tspan><tspan x="438.5" dy="-0.3">)</tspan></text>
<circle cx="379.4" cy="268.5" r="3.25" fill="none" stroke="#111" stroke-width="0.6"/><circle cx="379.4" cy="268.5" r="0.7" fill="#222"/><circle cx="387.2" cy="268.5" r="3.25" fill="none" stroke="#111" stroke-width="0.6"/><path d="M385.0 266.3L389.4 270.7M385.0 270.7L389.4 266.3" stroke="#111" stroke-width="0.55"/><circle cx="398.5" cy="268.5" r="3.25" fill="none" stroke="#111" stroke-width="0.6"/><path d="M396.3 266.3L400.7 270.7M396.3 270.7L400.7 266.3" stroke="#111" stroke-width="0.55"/><circle cx="406.5" cy="268.5" r="3.25" fill="none" stroke="#111" stroke-width="0.6"/><circle cx="406.5" cy="268.5" r="0.7" fill="#222"/><circle cx="417.4" cy="268.5" r="3.25" fill="none" stroke="#111" stroke-width="0.6"/><circle cx="417.4" cy="268.5" r="0.7" fill="#222"/><circle cx="425.2" cy="268.5" r="3.25" fill="none" stroke="#111" stroke-width="0.6"/><path d="M423.0 266.3L427.4 270.7M423.0 270.7L427.4 266.3" stroke="#111" stroke-width="0.55"/><circle cx="436.4" cy="268.5" r="3.25" fill="none" stroke="#111" stroke-width="0.6"/><path d="M434.2 266.3L438.6 270.7M434.2 270.7L438.6 266.3" stroke="#111" stroke-width="0.55"/><circle cx="444.3" cy="268.5" r="3.25" fill="none" stroke="#111" stroke-width="0.6"/><circle cx="444.3" cy="268.5" r="0.7" fill="#222"/>
<text x="489.8" y="246.7" text-anchor="middle" font-size="8.9">+26°</text>
<path d="M461.0 248.4H518.8M456.3 262.4H484.9M494.1 262.4H523.0" stroke="#222" stroke-width="0.8"/>
<text y="259" word-spacing="0"><tspan x="458.5">+</tspan><tspan x="463.8" font-style="italic">J</tspan><tspan x="468.4">(</tspan><tspan x="471.7" font-family='"DejaVu Sans", sans-serif' font-size="9.3" dy="0.3">→</tspan><tspan x="479.7" dy="-0.3">)</tspan></text>
<text y="259" word-spacing="0"><tspan x="495.3">−</tspan><tspan x="501.1" font-style="italic">J</tspan><tspan x="505.7">(</tspan><tspan x="508.7" font-family='"DejaVu Sans", sans-serif' font-size="9.3" dy="0.3">←</tspan><tspan x="516.6" dy="-0.3">)</tspan></text>
<circle cx="457.5" cy="268.5" r="3.25" fill="none" stroke="#111" stroke-width="0.6"/><circle cx="457.5" cy="268.5" r="0.7" fill="#222"/><circle cx="465.3" cy="268.5" r="3.25" fill="none" stroke="#111" stroke-width="0.6"/><path d="M463.1 266.3L467.5 270.7M463.1 270.7L467.5 266.3" stroke="#111" stroke-width="0.55"/><circle cx="476.6" cy="268.5" r="3.25" fill="none" stroke="#111" stroke-width="0.6"/><path d="M474.4 266.3L478.8 270.7M474.4 270.7L478.8 266.3" stroke="#111" stroke-width="0.55"/><circle cx="484.6" cy="268.5" r="3.25" fill="none" stroke="#111" stroke-width="0.6"/><circle cx="484.6" cy="268.5" r="0.7" fill="#222"/><circle cx="495.5" cy="268.5" r="3.25" fill="none" stroke="#111" stroke-width="0.6"/><circle cx="495.5" cy="268.5" r="0.7" fill="#222"/><circle cx="503.3" cy="268.5" r="3.25" fill="none" stroke="#111" stroke-width="0.6"/><path d="M501.1 266.3L505.5 270.7M501.1 270.7L505.5 266.3" stroke="#111" stroke-width="0.55"/><circle cx="514.5" cy="268.5" r="3.25" fill="none" stroke="#111" stroke-width="0.6"/><path d="M512.3 266.3L516.7 270.7M512.3 270.7L516.7 266.3" stroke="#111" stroke-width="0.55"/><circle cx="522.4" cy="268.5" r="3.25" fill="none" stroke="#111" stroke-width="0.6"/><circle cx="522.4" cy="268.5" r="0.7" fill="#222"/>
<text x="567.5" y="246.7" text-anchor="middle" font-size="8.9">−26°</text>
<path d="M538.6 248.4H596.5M534.0 262.4H562.5M571.8 262.4H600.6" stroke="#222" stroke-width="0.8"/>
<text y="259" word-spacing="0"><tspan x="536.2">+</tspan><tspan x="541.5" font-style="italic">J</tspan><tspan x="546.1">(</tspan><tspan x="549.4" font-family='"DejaVu Sans", sans-serif' font-size="9.3" dy="0.3">→</tspan><tspan x="557.4" dy="-0.3">)</tspan></text>
<text y="259" word-spacing="0"><tspan x="573.0">−</tspan><tspan x="578.8" font-style="italic">J</tspan><tspan x="583.4">(</tspan><tspan x="586.4" font-family='"DejaVu Sans", sans-serif' font-size="9.3" dy="0.3">←</tspan><tspan x="594.2" dy="-0.3">)</tspan></text>
<circle cx="535.1" cy="268.5" r="3.25" fill="none" stroke="#111" stroke-width="0.6"/><circle cx="535.1" cy="268.5" r="0.7" fill="#222"/><circle cx="543.0" cy="268.5" r="3.25" fill="none" stroke="#111" stroke-width="0.6"/><path d="M540.8 266.3L545.2 270.7M540.8 270.7L545.2 266.3" stroke="#111" stroke-width="0.55"/><circle cx="554.2" cy="268.5" r="3.25" fill="none" stroke="#111" stroke-width="0.6"/><path d="M552.0 266.3L556.5 270.7M552.0 270.7L556.5 266.3" stroke="#111" stroke-width="0.55"/><circle cx="562.2" cy="268.5" r="3.25" fill="none" stroke="#111" stroke-width="0.6"/><circle cx="562.2" cy="268.5" r="0.7" fill="#222"/><circle cx="573.1" cy="268.5" r="3.25" fill="none" stroke="#111" stroke-width="0.6"/><circle cx="573.1" cy="268.5" r="0.7" fill="#222"/><circle cx="581.0" cy="268.5" r="3.25" fill="none" stroke="#111" stroke-width="0.6"/><path d="M578.8 266.3L583.2 270.7M578.8 270.7L583.2 266.3" stroke="#111" stroke-width="0.55"/><circle cx="592.1" cy="268.5" r="3.25" fill="none" stroke="#111" stroke-width="0.6"/><path d="M589.9 266.3L594.4 270.7M589.9 270.7L594.4 266.3" stroke="#111" stroke-width="0.55"/><circle cx="600.0" cy="268.5" r="3.25" fill="none" stroke="#111" stroke-width="0.6"/><circle cx="600.0" cy="268.5" r="0.7" fill="#222"/>
<text x="645.2" y="246.7" text-anchor="middle" font-size="8.9">−45°</text>
<path d="M616.4 248.4H674.2M611.8 262.4H640.3M649.5 262.4H678.4" stroke="#222" stroke-width="0.8"/>
<text y="259" word-spacing="0"><tspan x="614.0">+</tspan><tspan x="619.2" font-style="italic">J</tspan><tspan x="623.9">(</tspan><tspan x="627.1" font-family='"DejaVu Sans", sans-serif' font-size="9.3" dy="0.3">→</tspan><tspan x="635.1" dy="-0.3">)</tspan></text>
<text y="259" word-spacing="0"><tspan x="650.8">−</tspan><tspan x="656.5" font-style="italic">J</tspan><tspan x="661.1">(</tspan><tspan x="664.1" font-family='"DejaVu Sans", sans-serif' font-size="9.3" dy="0.3">←</tspan><tspan x="672.0" dy="-0.3">)</tspan></text>
<circle cx="612.9" cy="268.5" r="3.25" fill="none" stroke="#111" stroke-width="0.6"/><circle cx="612.9" cy="268.5" r="0.7" fill="#222"/><circle cx="620.8" cy="268.5" r="3.25" fill="none" stroke="#111" stroke-width="0.6"/><path d="M618.5 266.3L623.0 270.7M618.5 270.7L623.0 266.3" stroke="#111" stroke-width="0.55"/><circle cx="632.0" cy="268.5" r="3.25" fill="none" stroke="#111" stroke-width="0.6"/><path d="M629.8 266.3L634.2 270.7M629.8 270.7L634.2 266.3" stroke="#111" stroke-width="0.55"/><circle cx="640.0" cy="268.5" r="3.25" fill="none" stroke="#111" stroke-width="0.6"/><circle cx="640.0" cy="268.5" r="0.7" fill="#222"/><circle cx="650.9" cy="268.5" r="3.25" fill="none" stroke="#111" stroke-width="0.6"/><circle cx="650.9" cy="268.5" r="0.7" fill="#222"/><circle cx="658.8" cy="268.5" r="3.25" fill="none" stroke="#111" stroke-width="0.6"/><path d="M656.5 266.3L661.0 270.7M656.5 270.7L661.0 266.3" stroke="#111" stroke-width="0.55"/><circle cx="669.9" cy="268.5" r="3.25" fill="none" stroke="#111" stroke-width="0.6"/><path d="M667.7 266.3L672.1 270.7M667.7 270.7L672.1 266.3" stroke="#111" stroke-width="0.55"/><circle cx="677.8" cy="268.5" r="3.25" fill="none" stroke="#111" stroke-width="0.6"/><circle cx="677.8" cy="268.5" r="0.7" fill="#222"/>
</svg>
</body></html>
